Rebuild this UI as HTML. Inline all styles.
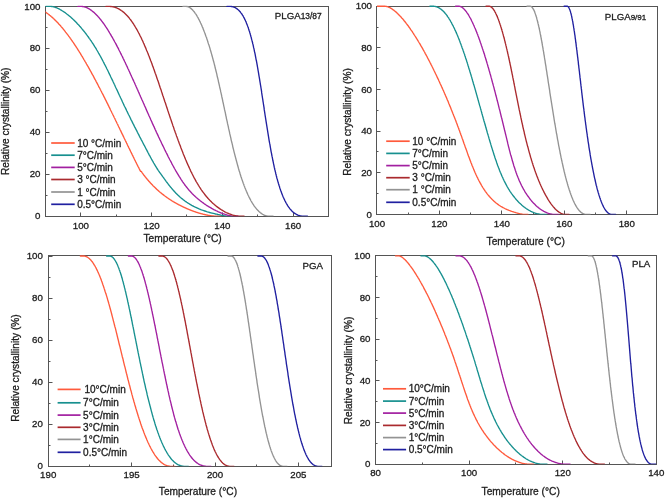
<!DOCTYPE html>
<html><head><meta charset="utf-8"><style>
html,body{margin:0;padding:0;background:#fff;}
svg{display:block;font-family:"Liberation Sans", sans-serif;will-change:transform;}
text{fill:#1c1c1c;stroke:#1c1c1c;stroke-width:0.3px;}
</style></head><body>
<svg width="666" height="500" viewBox="0 0 666 500">
<rect width="666" height="500" fill="#fff"/>
<rect x="45.50" y="6.50" width="283.00" height="210.00" fill="none" stroke="#555555" stroke-width="1.0"/>
<line x1="45.50" y1="216.50" x2="49.50" y2="216.50" stroke="#555555" stroke-width="1"/>
<line x1="45.50" y1="195.50" x2="47.50" y2="195.50" stroke="#555555" stroke-width="1"/>
<line x1="45.50" y1="174.50" x2="49.50" y2="174.50" stroke="#555555" stroke-width="1"/>
<line x1="45.50" y1="153.50" x2="47.50" y2="153.50" stroke="#555555" stroke-width="1"/>
<line x1="45.50" y1="132.50" x2="49.50" y2="132.50" stroke="#555555" stroke-width="1"/>
<line x1="45.50" y1="111.50" x2="47.50" y2="111.50" stroke="#555555" stroke-width="1"/>
<line x1="45.50" y1="90.50" x2="49.50" y2="90.50" stroke="#555555" stroke-width="1"/>
<line x1="45.50" y1="69.50" x2="47.50" y2="69.50" stroke="#555555" stroke-width="1"/>
<line x1="45.50" y1="48.50" x2="49.50" y2="48.50" stroke="#555555" stroke-width="1"/>
<line x1="45.50" y1="27.50" x2="47.50" y2="27.50" stroke="#555555" stroke-width="1"/>
<line x1="45.50" y1="6.50" x2="49.50" y2="6.50" stroke="#555555" stroke-width="1"/>
<line x1="80.50" y1="216.50" x2="80.50" y2="212.50" stroke="#555555" stroke-width="1"/>
<line x1="116.50" y1="216.50" x2="116.50" y2="214.50" stroke="#555555" stroke-width="1"/>
<line x1="151.50" y1="216.50" x2="151.50" y2="212.50" stroke="#555555" stroke-width="1"/>
<line x1="186.50" y1="216.50" x2="186.50" y2="214.50" stroke="#555555" stroke-width="1"/>
<line x1="222.50" y1="216.50" x2="222.50" y2="212.50" stroke="#555555" stroke-width="1"/>
<line x1="257.50" y1="216.50" x2="257.50" y2="214.50" stroke="#555555" stroke-width="1"/>
<line x1="293.50" y1="216.50" x2="293.50" y2="212.50" stroke="#555555" stroke-width="1"/>
<clipPath id="c1"><rect x="45.50" y="5.20" width="283.00" height="211.00"/></clipPath>
<g clip-path="url(#c1)" fill="none" stroke-width="1.35" stroke-linejoin="round" stroke-linecap="round">
<path d="M44.8,11.7 45.2,11.9 45.5,12.2 45.9,12.4 46.3,12.7 46.6,12.9 47.0,13.2 47.4,13.5 47.8,13.8 48.1,14.0 48.5,14.3 48.9,14.6 49.3,14.9 49.6,15.2 50.0,15.5 50.4,15.8 50.8,16.1 51.1,16.5 51.5,16.8 51.9,17.1 52.3,17.4 52.7,17.8 53.0,18.1 53.4,18.5 53.8,18.8 54.2,19.2 54.5,19.6 54.9,19.9 55.3,20.3 55.7,20.7 56.1,21.1 56.4,21.4 56.8,21.8 57.2,22.2 57.6,22.6 58.0,23.0 58.4,23.4 58.7,23.9 59.1,24.3 59.5,24.7 59.9,25.1 60.3,25.6 60.7,26.0 61.0,26.4 61.4,26.9 61.8,27.3 62.2,27.8 62.6,28.2 63.0,28.7 63.3,29.2 63.7,29.6 64.1,30.1 64.5,30.6 64.9,31.1 65.3,31.6 65.6,32.1 66.0,32.6 66.4,33.1 66.8,33.6 67.2,34.1 67.6,34.6 68.0,35.1 68.4,35.6 68.7,36.1 69.1,36.7 69.5,37.2 69.9,37.7 70.3,38.3 70.7,38.8 71.1,39.4 71.4,39.9 71.8,40.5 72.2,41.0 72.6,41.6 73.0,42.2 73.4,42.7 73.8,43.3 74.2,43.9 74.5,44.5 74.9,45.0 75.3,45.6 75.7,46.2 76.1,46.8 76.5,47.4 76.9,48.0 77.3,48.6 77.6,49.2 78.0,49.8 78.4,50.4 78.8,51.0 79.2,51.7 79.6,52.3 80.0,52.9 80.4,53.5 80.7,54.2 81.1,54.8 81.5,55.4 81.9,56.1 82.3,56.7 82.7,57.4 83.1,58.0 83.4,58.7 83.8,59.3 84.2,60.0 84.6,60.6 85.0,61.3 85.4,62.0 85.8,62.6 86.2,63.3 86.5,64.0 86.9,64.6 87.3,65.3 87.7,66.0 88.1,66.7 88.5,67.4 88.9,68.1 89.2,68.7 89.6,69.4 90.0,70.1 90.4,70.8 90.8,71.5 91.2,72.2 91.5,72.9 91.9,73.6 92.3,74.3 92.7,75.0 93.1,75.7 93.5,76.4 93.9,77.2 94.2,77.9 94.6,78.6 95.0,79.3 95.4,80.0 95.8,80.7 96.1,81.5 96.5,82.2 96.9,82.9 97.3,83.6 97.7,84.4 98.1,85.1 98.4,85.8 98.8,86.6 99.2,87.3 99.6,88.0 100.0,88.8 100.3,89.5 100.7,90.2 101.1,91.0 101.5,91.7 101.8,92.5 102.2,93.2 102.6,93.9 103.0,94.7 103.4,95.4 103.7,96.2 104.1,96.9 104.5,97.7 104.9,98.4 105.2,99.2 105.6,99.9 106.0,100.7 106.4,101.4 106.7,102.2 107.1,102.9 107.5,103.7 107.9,104.4 108.2,105.2 108.6,105.9 109.0,106.7 109.3,107.4 109.7,108.2 110.1,108.9 110.4,109.7 110.8,110.5 111.2,111.2 111.6,112.0 111.9,112.7 112.3,113.5 112.7,114.2 113.0,115.0 113.4,115.7 113.8,116.5 114.1,117.2 114.5,118.0 114.9,118.7 115.2,119.5 115.6,120.2 115.9,121.0 116.3,121.7 116.7,122.5 117.0,123.2 117.4,124.0 117.8,124.7 118.1,125.5 118.5,126.2 118.8,127.0 119.2,127.7 119.6,128.5 119.9,129.2 120.3,130.0 120.6,130.7 121.0,131.4 121.3,132.2 121.7,132.9 122.0,133.7 122.4,134.4 122.8,135.1 123.1,135.9 123.5,136.6 123.8,137.3 124.2,138.1 124.5,138.8 124.9,139.5 125.2,140.2 125.6,141.0 125.9,141.7 126.3,142.4 126.6,143.1 127.0,143.8 127.3,144.6 127.6,145.3 128.0,146.0 128.3,146.7 128.7,147.4 129.0,148.1 129.4,148.8 129.7,149.5 130.0,150.2 130.4,150.9 130.7,151.6 131.1,152.3 131.4,153.0 131.7,153.7 132.1,154.4 132.4,155.1 132.7,155.7 133.1,156.4 133.4,157.1 133.8,157.8 134.1,158.5 134.4,159.1 134.7,159.8 135.1,160.5 135.4,161.1 135.7,161.8 136.1,162.5 136.4,163.1 136.7,163.8 137.0,164.4 137.4,165.1 137.7,165.7 138.0,166.4 138.3,167.0 138.7,167.6 139.0,168.3 139.3,168.9 139.6,169.5 139.9,170.2 140.3,170.8 140.6,171.4L141.3,171.4 141.5,171.7 141.7,172.0 141.9,172.4 142.1,172.7 142.4,173.0 142.6,173.3 142.8,173.6 143.0,173.9 143.3,174.2 143.5,174.5 143.7,174.9 144.0,175.2 144.2,175.5 144.4,175.8 144.7,176.1 144.9,176.4 145.1,176.7 145.4,177.0 145.6,177.3 145.9,177.6 146.1,177.9 146.4,178.2 146.6,178.5 146.8,178.8 147.1,179.1 147.3,179.4 147.6,179.7 147.8,180.0 148.1,180.3 148.3,180.6 148.6,180.9 148.8,181.2 149.1,181.4 149.4,181.7 149.6,182.0 149.9,182.3 150.1,182.6 150.4,182.9 150.6,183.2 150.9,183.4 151.2,183.7 151.4,184.0 151.7,184.3 152.0,184.6 152.2,184.8 152.5,185.1 152.8,185.4 153.0,185.7 153.3,186.0 153.6,186.2 153.9,186.5 154.1,186.8 154.4,187.0 154.7,187.3 155.0,187.6 155.2,187.8 155.5,188.1 155.8,188.4 156.1,188.6 156.4,188.9 156.7,189.2 156.9,189.4 157.2,189.7 157.5,189.9 157.8,190.2 158.1,190.4 158.4,190.7 158.7,191.0 158.9,191.2 159.2,191.5 159.5,191.7 159.8,192.0 160.1,192.2 160.4,192.5 160.7,192.7 161.0,192.9 161.3,193.2 161.6,193.4 161.9,193.7 162.2,193.9 162.5,194.2 162.8,194.4 163.1,194.6 163.4,194.9 163.7,195.1 164.0,195.3 164.3,195.6 164.6,195.8 164.9,196.0 165.3,196.3 165.6,196.5 165.9,196.7 166.2,196.9 166.5,197.2 166.8,197.4 167.1,197.6 167.4,197.8 167.8,198.0 168.1,198.3 168.4,198.5 168.7,198.7 169.0,198.9 169.3,199.1 169.7,199.3 170.0,199.5 170.3,199.8 170.6,200.0 171.0,200.2 171.3,200.4 171.6,200.6 171.9,200.8 172.3,201.0 172.6,201.2 172.9,201.4 173.2,201.6 173.6,201.8 173.9,202.0 174.2,202.2 174.6,202.4 174.9,202.6 175.2,202.8 175.5,202.9 175.9,203.1 176.2,203.3 176.5,203.5 176.9,203.7 177.2,203.9 177.5,204.1 177.9,204.2 178.2,204.4 178.5,204.6 178.9,204.8 179.2,204.9 179.6,205.1 179.9,205.3 180.2,205.5 180.6,205.6 180.9,205.8 181.2,206.0 181.6,206.1 181.9,206.3 182.2,206.5 182.6,206.6 182.9,206.8 183.2,207.0 183.6,207.1 183.9,207.3 184.3,207.4 184.6,207.6 184.9,207.7 185.3,207.9 185.6,208.0 185.9,208.2 186.3,208.3 186.6,208.5 186.9,208.6 187.3,208.8 187.6,208.9 188.0,209.1 188.3,209.2 188.6,209.3 189.0,209.5 189.3,209.6 189.6,209.8 190.0,209.9 190.3,210.0 190.6,210.2 191.0,210.3 191.3,210.4 191.6,210.5 191.9,210.7 192.3,210.8 192.6,210.9 192.9,211.0 193.3,211.1 193.6,211.3 193.9,211.4 194.2,211.5 194.6,211.6 194.9,211.7 195.2,211.8 195.5,212.0 195.9,212.1 196.2,212.2 196.5,212.3 196.8,212.4 197.2,212.5 197.5,212.6 197.8,212.7 198.1,212.8 198.4,212.9 198.8,213.0 199.1,213.1 199.4,213.2 199.7,213.3 200.0,213.3 200.3,213.4 200.6,213.5 200.9,213.6 201.3,213.7 201.6,213.8 201.9,213.9 202.2,213.9 202.5,214.0 202.8,214.1 203.1,214.2 203.4,214.3 203.7,214.3 204.0,214.4 204.3,214.5 204.6,214.5 204.9,214.6 205.2,214.7 205.5,214.7 205.8,214.8 206.0,214.9 206.3,214.9 206.6,215.0 206.9,215.0 207.2,215.1 207.5,215.2 207.8,215.2 208.0,215.3 208.3,215.3 208.6,215.4 208.9,215.4 209.2,215.5 209.4,215.5 209.7,215.6 210.0,215.6 210.2,215.6 210.5,215.7 210.8,215.7 211.0,215.7 211.3,215.8 211.6,215.8 211.8,215.9 212.1,215.9 212.3,215.9 212.6,215.9 212.8,216.0 213.1,216.0 213.3,216.0 213.6,216.0 213.8,216.1 214.1,216.1 214.3,216.1 214.6,216.1 214.8,216.1 215.0,216.1 215.3,216.2 215.5,216.2 215.7,216.2 216.0,216.2 216.2,216.2 216.4,216.2 216.6,216.2 216.8,216.2 217.1,216.2 221.1,216.2" stroke="#FF5A3C"/>
<path d="M45.5,6.4 50.4,6.4 50.8,6.4 51.2,6.4 51.6,6.5 52.0,6.5 52.5,6.6 52.9,6.7 53.4,6.8 53.9,6.9 54.3,7.0 54.8,7.2 55.3,7.3 55.8,7.5 56.3,7.7 56.8,7.9 57.3,8.1 57.9,8.4 58.4,8.6 59.0,8.9 59.5,9.2 60.1,9.5 60.6,9.8 61.2,10.1 61.8,10.5 62.3,10.8 62.9,11.2 63.5,11.6 64.1,12.0 64.7,12.4 65.3,12.8 65.9,13.3 66.5,13.7 67.1,14.2 67.8,14.7 68.4,15.2 69.0,15.7 69.6,16.2 70.3,16.8 70.9,17.3 71.6,17.9 72.2,18.5 72.8,19.1 73.5,19.7 74.1,20.3 74.8,21.0 75.4,21.6 76.1,22.3 76.8,23.0 77.4,23.7 78.1,24.4 78.7,25.1 79.4,25.8 80.0,26.6 80.7,27.3 81.4,28.1 82.0,28.9 82.7,29.7 83.3,30.5 84.0,31.3 84.7,32.1 85.3,33.0 86.0,33.8 86.6,34.7 87.3,35.6 87.9,36.5 88.6,37.3 89.2,38.3 89.9,39.2 90.5,40.1 91.2,41.0 91.8,42.0 92.4,43.0 93.1,43.9 93.7,44.9 94.3,45.9 94.9,46.9 95.6,47.9 96.2,48.9 96.8,50.0 97.4,51.0 98.0,52.0 98.6,53.1 99.2,54.1 99.8,55.2 100.4,56.3 101.0,57.4 101.6,58.5 102.2,59.6 102.8,60.7 103.3,61.8 103.9,62.9 104.5,64.1 105.1,65.2 105.7,66.4 106.3,67.5 106.8,68.7 107.4,69.8 108.0,71.0 108.6,72.2 109.1,73.4 109.7,74.6 110.3,75.8 110.8,77.0 111.4,78.2 112.0,79.4 112.6,80.6 113.1,81.8 113.7,83.0 114.3,84.3 114.9,85.5 115.4,86.7 116.0,88.0 116.6,89.2 117.2,90.4 117.8,91.7 118.3,92.9 118.9,94.2 119.5,95.5 120.1,96.7 120.7,98.0 121.3,99.2 121.9,100.5 122.4,101.8 123.0,103.0 123.6,104.3 124.2,105.6 124.8,106.8 125.5,108.1 126.1,109.4 126.7,110.7 127.3,111.9 127.9,113.2 128.5,114.5 129.2,115.8 129.8,117.0 130.4,118.3 131.0,119.6 131.7,120.8 132.3,122.1 132.9,123.4 133.6,124.6 134.2,125.9 134.8,127.1 135.5,128.4 136.1,129.7 136.8,130.9 137.4,132.2 138.0,133.4 138.7,134.6 139.3,135.9 139.9,137.1 140.6,138.3 141.2,139.6 141.9,140.8 142.5,142.0 143.1,143.2 143.7,144.4 144.4,145.6 145.0,146.8 145.6,148.0 146.2,149.2 146.9,150.4 147.5,151.6 148.1,152.8 148.7,153.9 149.3,155.1 150.0,156.2 150.6,157.4 151.2,158.5 151.8,159.7 152.5,160.8 153.1,161.9 153.7,163.0 154.4,164.1 155.0,165.2 155.7,166.3 156.4,167.4 157.0,168.5 157.7,169.5 158.4,170.6 159.1,171.6 159.8,172.6 160.6,173.7 161.3,174.7 162.0,175.7 162.7,176.7 163.5,177.7 164.2,178.7 164.9,179.6 165.6,180.6 166.3,181.6 167.0,182.5 167.7,183.4 168.4,184.3 169.1,185.3 169.8,186.1 170.5,187.0 171.3,187.9 172.0,188.8 172.7,189.6 173.5,190.5 174.2,191.3 174.9,192.1 175.7,192.9 176.5,193.7 177.3,194.5 178.1,195.3 178.9,196.0 179.7,196.8 180.5,197.5 181.4,198.2 182.3,198.9 183.1,199.6 184.0,200.3 184.9,201.0 185.8,201.6 186.8,202.3 187.7,202.9 188.7,203.5 189.7,204.1 190.6,204.7 191.7,205.3 192.7,205.8 193.7,206.4 194.7,206.9 195.8,207.4 196.9,207.9 198.0,208.4 199.1,208.9 200.2,209.3 201.4,209.8 202.5,210.2 203.7,210.6 204.9,211.0 206.1,211.4 207.3,211.8 208.5,212.1 209.7,212.5 210.9,212.8 212.1,213.1 213.3,213.4 214.5,213.7 215.6,214.0 216.8,214.2 217.8,214.5 218.9,214.7 219.9,214.9 220.8,215.1 221.7,215.3 222.5,215.4 223.2,215.6 223.9,215.7 224.5,215.8 225.0,215.9 225.4,216.0 225.7,216.1 226.0,216.1 226.1,216.2 226.1,216.2 226.1,216.2 230.1,216.2" stroke="#17908F"/>
<path d="M77.9,6.4 80.9,6.4 81.3,6.4 81.8,6.4 82.2,6.5 82.7,6.5 83.1,6.6 83.6,6.7 84.0,6.8 84.5,6.9 85.0,7.0 85.4,7.2 85.9,7.3 86.3,7.5 86.8,7.7 87.3,7.9 87.7,8.1 88.2,8.4 88.7,8.6 89.1,8.9 89.6,9.2 90.1,9.5 90.6,9.8 91.0,10.1 91.5,10.5 92.0,10.8 92.4,11.2 92.9,11.6 93.4,12.0 93.9,12.4 94.4,12.8 94.8,13.3 95.3,13.7 95.8,14.2 96.3,14.7 96.8,15.2 97.3,15.7 97.7,16.2 98.2,16.8 98.7,17.3 99.2,17.9 99.7,18.5 100.2,19.1 100.7,19.7 101.2,20.3 101.7,21.0 102.2,21.6 102.7,22.3 103.2,23.0 103.7,23.7 104.2,24.4 104.7,25.1 105.2,25.8 105.7,26.6 106.2,27.3 106.7,28.1 107.2,28.9 107.7,29.7 108.2,30.5 108.7,31.3 109.2,32.1 109.7,33.0 110.2,33.8 110.7,34.7 111.2,35.6 111.7,36.5 112.3,37.3 112.8,38.3 113.3,39.2 113.8,40.1 114.3,41.0 114.8,42.0 115.4,43.0 115.9,43.9 116.4,44.9 116.9,45.9 117.4,46.9 118.0,47.9 118.5,48.9 119.0,50.0 119.5,51.0 120.1,52.0 120.6,53.1 121.1,54.1 121.6,55.2 122.2,56.3 122.7,57.4 123.2,58.5 123.8,59.6 124.3,60.7 124.8,61.8 125.4,62.9 125.9,64.1 126.4,65.2 127.0,66.4 127.5,67.5 128.0,68.7 128.6,69.8 129.1,71.0 129.7,72.2 130.2,73.4 130.7,74.6 131.3,75.8 131.8,77.0 132.4,78.2 132.9,79.4 133.5,80.6 134.0,81.8 134.6,83.0 135.1,84.3 135.7,85.5 136.2,86.7 136.8,88.0 137.3,89.2 137.9,90.4 138.4,91.7 139.0,92.9 139.5,94.2 140.1,95.5 140.6,96.7 141.2,98.0 141.7,99.2 142.3,100.5 142.9,101.8 143.4,103.0 144.0,104.3 144.5,105.6 145.1,106.8 145.7,108.1 146.2,109.4 146.8,110.7 147.3,111.9 147.9,113.2 148.5,114.5 149.0,115.8 149.6,117.0 150.2,118.3 150.7,119.6 151.3,120.8 151.9,122.1 152.4,123.4 153.0,124.6 153.6,125.9 154.2,127.1 154.7,128.4 155.3,129.7 155.9,130.9 156.4,132.2 157.0,133.4 157.6,134.6 158.2,135.9 158.7,137.1 159.3,138.3 159.9,139.6 160.5,140.8 161.1,142.0 161.6,143.2 162.2,144.4 162.8,145.6 163.4,146.8 164.0,148.0 164.5,149.2 165.1,150.4 165.7,151.6 166.3,152.8 166.9,153.9 167.5,155.1 168.0,156.2 168.6,157.4 169.2,158.5 169.8,159.7 170.4,160.8 171.0,161.9 171.6,163.0 172.1,164.1 172.7,165.2 173.3,166.3 173.9,167.4 174.5,168.5 175.1,169.5 175.7,170.6 176.3,171.6 176.9,172.6 177.5,173.7 178.1,174.7 178.7,175.7 179.3,176.7 180.0,177.7 180.6,178.7 181.2,179.6 181.9,180.6 182.5,181.6 183.1,182.5 183.8,183.4 184.5,184.3 185.1,185.3 185.8,186.1 186.5,187.0 187.2,187.9 187.9,188.8 188.6,189.6 189.3,190.5 190.1,191.3 190.8,192.1 191.6,192.9 192.3,193.7 193.1,194.5 193.9,195.3 194.7,196.0 195.5,196.8 196.3,197.5 197.2,198.2 198.0,198.9 198.8,199.6 199.7,200.3 200.5,201.0 201.4,201.6 202.2,202.3 203.1,202.9 203.9,203.5 204.8,204.1 205.7,204.7 206.5,205.3 207.4,205.8 208.3,206.4 209.1,206.9 210.0,207.4 210.9,207.9 211.7,208.4 212.6,208.9 213.4,209.3 214.3,209.8 215.1,210.2 215.9,210.6 216.8,211.0 217.6,211.4 218.4,211.8 219.2,212.1 220.0,212.5 220.8,212.8 221.6,213.1 222.4,213.4 223.1,213.7 223.9,214.0 224.6,214.2 225.3,214.5 226.0,214.7 226.7,214.9 227.4,215.1 228.0,215.3 228.7,215.4 229.3,215.6 229.9,215.7 230.5,215.8 231.1,215.9 231.6,216.0 232.2,216.1 232.7,216.1 233.2,216.2 233.6,216.2 234.1,216.2 238.1,216.2" stroke="#A21FA0"/>
<path d="M105.9,6.4 108.9,6.4 109.5,6.4 110.0,6.4 110.6,6.5 111.2,6.5 111.7,6.6 112.3,6.7 112.8,6.8 113.4,6.9 113.9,7.0 114.4,7.2 115.0,7.3 115.5,7.5 116.1,7.7 116.6,7.9 117.1,8.1 117.6,8.4 118.2,8.6 118.7,8.9 119.2,9.2 119.7,9.5 120.2,9.8 120.7,10.1 121.2,10.5 121.8,10.8 122.3,11.2 122.8,11.6 123.3,12.0 123.8,12.4 124.3,12.8 124.7,13.3 125.2,13.7 125.7,14.2 126.2,14.7 126.7,15.2 127.2,15.7 127.7,16.2 128.1,16.8 128.6,17.3 129.1,17.9 129.6,18.5 130.0,19.1 130.5,19.7 131.0,20.3 131.4,21.0 131.9,21.6 132.4,22.3 132.8,23.0 133.3,23.7 133.8,24.4 134.2,25.1 134.7,25.8 135.1,26.6 135.6,27.3 136.0,28.1 136.5,28.9 136.9,29.7 137.4,30.5 137.8,31.3 138.3,32.1 138.7,33.0 139.2,33.8 139.6,34.7 140.0,35.6 140.5,36.5 140.9,37.3 141.4,38.3 141.8,39.2 142.2,40.1 142.7,41.0 143.1,42.0 143.5,43.0 144.0,43.9 144.4,44.9 144.8,45.9 145.2,46.9 145.7,47.9 146.1,48.9 146.5,50.0 146.9,51.0 147.4,52.0 147.8,53.1 148.2,54.1 148.6,55.2 149.1,56.3 149.5,57.4 149.9,58.5 150.3,59.6 150.7,60.7 151.2,61.8 151.6,62.9 152.0,64.1 152.4,65.2 152.8,66.4 153.3,67.5 153.7,68.7 154.1,69.8 154.5,71.0 154.9,72.2 155.3,73.4 155.8,74.6 156.2,75.8 156.6,77.0 157.0,78.2 157.4,79.4 157.8,80.6 158.3,81.8 158.7,83.0 159.1,84.3 159.5,85.5 159.9,86.7 160.3,88.0 160.8,89.2 161.2,90.4 161.6,91.7 162.0,92.9 162.4,94.2 162.8,95.5 163.3,96.7 163.7,98.0 164.1,99.2 164.5,100.5 164.9,101.8 165.4,103.0 165.8,104.3 166.2,105.6 166.6,106.8 167.0,108.1 167.5,109.4 167.9,110.7 168.3,111.9 168.7,113.2 169.2,114.5 169.6,115.8 170.0,117.0 170.4,118.3 170.9,119.6 171.3,120.8 171.7,122.1 172.2,123.4 172.6,124.6 173.0,125.9 173.5,127.1 173.9,128.4 174.3,129.7 174.8,130.9 175.2,132.2 175.7,133.4 176.1,134.6 176.5,135.9 177.0,137.1 177.4,138.3 177.9,139.6 178.3,140.8 178.8,142.0 179.2,143.2 179.7,144.4 180.1,145.6 180.6,146.8 181.0,148.0 181.5,149.2 182.0,150.4 182.4,151.6 182.9,152.8 183.3,153.9 183.8,155.1 184.3,156.2 184.7,157.4 185.2,158.5 185.7,159.7 186.2,160.8 186.6,161.9 187.1,163.0 187.6,164.1 188.1,165.2 188.6,166.3 189.1,167.4 189.6,168.5 190.1,169.5 190.5,170.6 191.0,171.6 191.6,172.6 192.1,173.7 192.6,174.7 193.1,175.7 193.6,176.7 194.1,177.7 194.6,178.7 195.2,179.6 195.7,180.6 196.2,181.6 196.8,182.5 197.3,183.4 197.9,184.3 198.4,185.3 199.0,186.1 199.5,187.0 200.1,187.9 200.7,188.8 201.2,189.6 201.8,190.5 202.4,191.3 203.0,192.1 203.6,192.9 204.2,193.7 204.8,194.5 205.4,195.3 206.0,196.0 206.6,196.8 207.3,197.5 207.9,198.2 208.5,198.9 209.2,199.6 209.8,200.3 210.5,201.0 211.1,201.6 211.8,202.3 212.5,202.9 213.1,203.5 213.8,204.1 214.5,204.7 215.2,205.3 215.8,205.8 216.5,206.4 217.2,206.9 217.9,207.4 218.6,207.9 219.3,208.4 220.0,208.9 220.7,209.3 221.4,209.8 222.1,210.2 222.8,210.6 223.5,211.0 224.1,211.4 224.8,211.8 225.5,212.1 226.2,212.5 226.9,212.8 227.6,213.1 228.3,213.4 228.9,213.7 229.6,214.0 230.3,214.2 230.9,214.5 231.6,214.7 232.2,214.9 232.9,215.1 233.5,215.3 234.2,215.4 234.8,215.6 235.4,215.7 236.0,215.8 236.6,215.9 237.2,216.0 237.8,216.1 238.4,216.1 239.0,216.2 239.6,216.2 240.1,216.2 244.1,216.2" stroke="#AA2A2E"/>
<path d="M183.0,6.4 186.0,6.4 186.3,6.4 186.6,6.4 186.9,6.5 187.2,6.5 187.5,6.6 187.8,6.7 188.1,6.8 188.4,6.9 188.7,7.0 189.0,7.2 189.3,7.3 189.6,7.5 189.9,7.7 190.2,7.9 190.5,8.1 190.8,8.4 191.1,8.6 191.4,8.9 191.8,9.2 192.1,9.5 192.4,9.8 192.7,10.1 193.0,10.5 193.3,10.8 193.6,11.2 193.9,11.6 194.3,12.0 194.6,12.4 194.9,12.8 195.2,13.3 195.5,13.7 195.9,14.2 196.2,14.7 196.5,15.2 196.8,15.7 197.1,16.2 197.4,16.8 197.8,17.3 198.1,17.9 198.4,18.5 198.7,19.1 199.0,19.7 199.4,20.3 199.7,21.0 200.0,21.6 200.3,22.3 200.6,23.0 201.0,23.7 201.3,24.4 201.6,25.1 201.9,25.8 202.2,26.6 202.6,27.3 202.9,28.1 203.2,28.9 203.5,29.7 203.8,30.5 204.1,31.3 204.5,32.1 204.8,33.0 205.1,33.8 205.4,34.7 205.7,35.6 206.0,36.5 206.4,37.3 206.7,38.3 207.0,39.2 207.3,40.1 207.6,41.0 207.9,42.0 208.2,43.0 208.5,43.9 208.9,44.9 209.2,45.9 209.5,46.9 209.8,47.9 210.1,48.9 210.4,50.0 210.7,51.0 211.0,52.0 211.3,53.1 211.6,54.1 211.9,55.2 212.2,56.3 212.5,57.4 212.8,58.5 213.1,59.6 213.4,60.7 213.7,61.8 214.0,62.9 214.3,64.1 214.6,65.2 214.9,66.4 215.1,67.5 215.4,68.7 215.7,69.8 216.0,71.0 216.3,72.2 216.6,73.4 216.9,74.6 217.1,75.8 217.4,77.0 217.7,78.2 218.0,79.4 218.3,80.6 218.5,81.8 218.8,83.0 219.1,84.3 219.4,85.5 219.6,86.7 219.9,88.0 220.2,89.2 220.5,90.4 220.7,91.7 221.0,92.9 221.3,94.2 221.6,95.5 221.8,96.7 222.1,98.0 222.4,99.2 222.6,100.5 222.9,101.8 223.2,103.0 223.5,104.3 223.7,105.6 224.0,106.8 224.3,108.1 224.5,109.4 224.8,110.7 225.1,111.9 225.4,113.2 225.6,114.5 225.9,115.8 226.2,117.0 226.4,118.3 226.7,119.6 227.0,120.8 227.3,122.1 227.5,123.4 227.8,124.6 228.1,125.9 228.4,127.1 228.6,128.4 228.9,129.7 229.2,130.9 229.5,132.2 229.7,133.4 230.0,134.6 230.3,135.9 230.6,137.1 230.9,138.3 231.1,139.6 231.4,140.8 231.7,142.0 232.0,143.2 232.3,144.4 232.6,145.6 232.8,146.8 233.1,148.0 233.4,149.2 233.7,150.4 234.0,151.6 234.3,152.8 234.6,153.9 234.9,155.1 235.2,156.2 235.5,157.4 235.8,158.5 236.1,159.7 236.4,160.8 236.7,161.9 237.0,163.0 237.3,164.1 237.6,165.2 237.9,166.3 238.2,167.4 238.5,168.5 238.8,169.5 239.1,170.6 239.4,171.6 239.8,172.6 240.1,173.7 240.4,174.7 240.7,175.7 241.0,176.7 241.4,177.7 241.7,178.7 242.0,179.6 242.3,180.6 242.7,181.6 243.0,182.5 243.3,183.4 243.7,184.3 244.0,185.3 244.3,186.1 244.7,187.0 245.0,187.9 245.4,188.8 245.7,189.6 246.1,190.5 246.4,191.3 246.8,192.1 247.1,192.9 247.5,193.7 247.8,194.5 248.2,195.3 248.6,196.0 248.9,196.8 249.3,197.5 249.6,198.2 250.0,198.9 250.4,199.6 250.7,200.3 251.1,201.0 251.5,201.6 251.9,202.3 252.2,202.9 252.6,203.5 253.0,204.1 253.4,204.7 253.8,205.3 254.1,205.8 254.5,206.4 254.9,206.9 255.3,207.4 255.7,207.9 256.1,208.4 256.5,208.9 256.9,209.3 257.3,209.8 257.7,210.2 258.1,210.6 258.5,211.0 258.9,211.4 259.3,211.8 259.7,212.1 260.1,212.5 260.5,212.8 260.9,213.1 261.3,213.4 261.7,213.7 262.1,214.0 262.5,214.2 262.9,214.5 263.3,214.7 263.7,214.9 264.1,215.1 264.5,215.3 264.9,215.4 265.4,215.6 265.8,215.7 266.2,215.8 266.6,215.9 267.0,216.0 267.4,216.1 267.8,216.1 268.3,216.2 268.7,216.2 269.1,216.2 273.1,216.2" stroke="#939393"/>
<path d="M226.9,6.4 229.9,6.4 230.3,6.4 230.8,6.4 231.2,6.5 231.6,6.5 232.0,6.6 232.4,6.7 232.8,6.8 233.2,6.9 233.6,7.0 234.0,7.2 234.4,7.3 234.8,7.5 235.2,7.7 235.6,7.9 236.0,8.1 236.3,8.4 236.7,8.6 237.1,8.9 237.5,9.2 237.8,9.5 238.2,9.8 238.5,10.1 238.9,10.5 239.2,10.8 239.6,11.2 239.9,11.6 240.3,12.0 240.6,12.4 240.9,12.8 241.3,13.3 241.6,13.7 241.9,14.2 242.2,14.7 242.5,15.2 242.9,15.7 243.2,16.2 243.5,16.8 243.8,17.3 244.1,17.9 244.4,18.5 244.7,19.1 245.0,19.7 245.3,20.3 245.6,21.0 245.9,21.6 246.2,22.3 246.4,23.0 246.7,23.7 247.0,24.4 247.3,25.1 247.5,25.8 247.8,26.6 248.1,27.3 248.4,28.1 248.6,28.9 248.9,29.7 249.1,30.5 249.4,31.3 249.7,32.1 249.9,33.0 250.2,33.8 250.4,34.7 250.7,35.6 250.9,36.5 251.2,37.3 251.4,38.3 251.6,39.2 251.9,40.1 252.1,41.0 252.4,42.0 252.6,43.0 252.8,43.9 253.1,44.9 253.3,45.9 253.5,46.9 253.7,47.9 254.0,48.9 254.2,50.0 254.4,51.0 254.6,52.0 254.9,53.1 255.1,54.1 255.3,55.2 255.5,56.3 255.7,57.4 255.9,58.5 256.1,59.6 256.4,60.7 256.6,61.8 256.8,62.9 257.0,64.1 257.2,65.2 257.4,66.4 257.6,67.5 257.8,68.7 258.0,69.8 258.2,71.0 258.4,72.2 258.6,73.4 258.8,74.6 259.0,75.8 259.2,77.0 259.4,78.2 259.6,79.4 259.8,80.6 260.0,81.8 260.2,83.0 260.4,84.3 260.6,85.5 260.8,86.7 261.0,88.0 261.2,89.2 261.4,90.4 261.6,91.7 261.7,92.9 261.9,94.2 262.1,95.5 262.3,96.7 262.5,98.0 262.7,99.2 262.9,100.5 263.1,101.8 263.3,103.0 263.5,104.3 263.7,105.6 263.9,106.8 264.1,108.1 264.2,109.4 264.4,110.7 264.6,111.9 264.8,113.2 265.0,114.5 265.2,115.8 265.4,117.0 265.6,118.3 265.8,119.6 266.0,120.8 266.2,122.1 266.4,123.4 266.6,124.6 266.8,125.9 267.0,127.1 267.2,128.4 267.4,129.7 267.6,130.9 267.8,132.2 268.0,133.4 268.2,134.6 268.4,135.9 268.6,137.1 268.8,138.3 269.0,139.6 269.2,140.8 269.4,142.0 269.6,143.2 269.9,144.4 270.1,145.6 270.3,146.8 270.5,148.0 270.7,149.2 270.9,150.4 271.1,151.6 271.4,152.8 271.6,153.9 271.8,155.1 272.0,156.2 272.3,157.4 272.5,158.5 272.7,159.7 272.9,160.8 273.2,161.9 273.4,163.0 273.6,164.1 273.9,165.2 274.1,166.3 274.3,167.4 274.6,168.5 274.8,169.5 275.1,170.6 275.3,171.6 275.6,172.6 275.8,173.7 276.1,174.7 276.3,175.7 276.6,176.7 276.8,177.7 277.1,178.7 277.4,179.6 277.6,180.6 277.9,181.6 278.2,182.5 278.4,183.4 278.7,184.3 279.0,185.3 279.3,186.1 279.6,187.0 279.8,187.9 280.1,188.8 280.4,189.6 280.7,190.5 281.0,191.3 281.3,192.1 281.6,192.9 281.9,193.7 282.2,194.5 282.5,195.3 282.8,196.0 283.1,196.8 283.4,197.5 283.8,198.2 284.1,198.9 284.4,199.6 284.7,200.3 285.1,201.0 285.4,201.6 285.7,202.3 286.1,202.9 286.4,203.5 286.8,204.1 287.1,204.7 287.5,205.3 287.8,205.8 288.2,206.4 288.5,206.9 288.9,207.4 289.3,207.9 289.6,208.4 290.0,208.9 290.4,209.3 290.8,209.8 291.2,210.2 291.6,210.6 291.9,211.0 292.3,211.4 292.7,211.8 293.1,212.1 293.6,212.5 294.0,212.8 294.4,213.1 294.8,213.4 295.2,213.7 295.7,214.0 296.1,214.2 296.5,214.5 297.0,214.7 297.4,214.9 297.8,215.1 298.3,215.3 298.8,215.4 299.2,215.6 299.7,215.7 300.1,215.8 300.6,215.9 301.1,216.0 301.6,216.1 302.1,216.1 302.5,216.2 303.0,216.2 303.5,216.2 307.5,216.2" stroke="#2020A0"/>
</g>
<text x="40.50" y="219.30" font-size="9.7" text-anchor="end" >0</text>
<text x="40.50" y="177.34" font-size="9.7" text-anchor="end" >20</text>
<text x="40.50" y="135.38" font-size="9.7" text-anchor="end" >40</text>
<text x="40.50" y="93.42" font-size="9.7" text-anchor="end" >60</text>
<text x="40.50" y="51.46" font-size="9.7" text-anchor="end" >80</text>
<text x="40.50" y="9.50" font-size="9.7" text-anchor="end" >100</text>
<text x="80.88" y="229.00" font-size="9.7" text-anchor="middle" >100</text>
<text x="151.62" y="229.00" font-size="9.7" text-anchor="middle" >120</text>
<text x="222.38" y="229.00" font-size="9.7" text-anchor="middle" >140</text>
<text x="293.12" y="229.00" font-size="9.7" text-anchor="middle" >160</text>
<text x="143.50" y="242.20" font-size="10.2" text-anchor="start" >Temperature (°C)</text>
<text transform="translate(9.40,175.00) rotate(-90)" font-size="10.15">Relative crystallinity (%)</text>
<text x="274.80" y="18.60" font-size="9.7">PLGA<tspan font-size="8.4">13/87</tspan></text>
<line x1="51.20" y1="143.00" x2="74.70" y2="143.00" stroke="#FF5A3C" stroke-width="1.7" stroke-linecap="butt"/>
<text x="77.20" y="146.50" font-size="10" text-anchor="start" >10 °C/min</text>
<line x1="51.20" y1="155.20" x2="74.70" y2="155.20" stroke="#17908F" stroke-width="1.7" stroke-linecap="butt"/>
<text x="77.20" y="158.70" font-size="10" text-anchor="start" >7°C/min</text>
<line x1="51.20" y1="167.40" x2="74.70" y2="167.40" stroke="#A21FA0" stroke-width="1.7" stroke-linecap="butt"/>
<text x="77.20" y="170.90" font-size="10" text-anchor="start" >5°C/min</text>
<line x1="51.20" y1="179.50" x2="74.70" y2="179.50" stroke="#AA2A2E" stroke-width="1.7" stroke-linecap="butt"/>
<text x="77.20" y="183.00" font-size="10" text-anchor="start" >3 °C/min</text>
<line x1="51.20" y1="192.00" x2="74.70" y2="192.00" stroke="#939393" stroke-width="1.7" stroke-linecap="butt"/>
<text x="77.20" y="195.50" font-size="10" text-anchor="start" >1 °C/min</text>
<line x1="51.20" y1="204.30" x2="74.70" y2="204.30" stroke="#2020A0" stroke-width="1.7" stroke-linecap="butt"/>
<text x="77.20" y="207.80" font-size="10" text-anchor="start" >0.5°C/min</text>
<rect x="376.50" y="6.50" width="281.00" height="208.00" fill="none" stroke="#555555" stroke-width="1.0"/>
<line x1="376.50" y1="214.50" x2="380.50" y2="214.50" stroke="#555555" stroke-width="1"/>
<line x1="376.50" y1="193.50" x2="378.50" y2="193.50" stroke="#555555" stroke-width="1"/>
<line x1="376.50" y1="172.50" x2="380.50" y2="172.50" stroke="#555555" stroke-width="1"/>
<line x1="376.50" y1="151.50" x2="378.50" y2="151.50" stroke="#555555" stroke-width="1"/>
<line x1="376.50" y1="131.50" x2="380.50" y2="131.50" stroke="#555555" stroke-width="1"/>
<line x1="376.50" y1="110.50" x2="378.50" y2="110.50" stroke="#555555" stroke-width="1"/>
<line x1="376.50" y1="89.50" x2="380.50" y2="89.50" stroke="#555555" stroke-width="1"/>
<line x1="376.50" y1="68.50" x2="378.50" y2="68.50" stroke="#555555" stroke-width="1"/>
<line x1="376.50" y1="47.50" x2="380.50" y2="47.50" stroke="#555555" stroke-width="1"/>
<line x1="376.50" y1="27.50" x2="378.50" y2="27.50" stroke="#555555" stroke-width="1"/>
<line x1="376.50" y1="6.50" x2="380.50" y2="6.50" stroke="#555555" stroke-width="1"/>
<line x1="408.50" y1="214.50" x2="408.50" y2="212.50" stroke="#555555" stroke-width="1"/>
<line x1="439.50" y1="214.50" x2="439.50" y2="210.50" stroke="#555555" stroke-width="1"/>
<line x1="470.50" y1="214.50" x2="470.50" y2="212.50" stroke="#555555" stroke-width="1"/>
<line x1="501.50" y1="214.50" x2="501.50" y2="210.50" stroke="#555555" stroke-width="1"/>
<line x1="533.50" y1="214.50" x2="533.50" y2="212.50" stroke="#555555" stroke-width="1"/>
<line x1="564.50" y1="214.50" x2="564.50" y2="210.50" stroke="#555555" stroke-width="1"/>
<line x1="595.50" y1="214.50" x2="595.50" y2="212.50" stroke="#555555" stroke-width="1"/>
<line x1="626.50" y1="214.50" x2="626.50" y2="210.50" stroke="#555555" stroke-width="1"/>
<clipPath id="c2"><rect x="377.00" y="5.00" width="281.00" height="209.40"/></clipPath>
<g clip-path="url(#c2)" fill="none" stroke-width="1.35" stroke-linejoin="round" stroke-linecap="round">
<path d="M377.0,6.2 384.4,6.2 384.7,6.2 385.1,6.2 385.5,6.3 385.8,6.3 386.2,6.4 386.6,6.5 387.0,6.6 387.4,6.7 387.8,6.8 388.2,7.0 388.6,7.1 389.0,7.3 389.4,7.5 389.8,7.7 390.2,7.9 390.6,8.2 391.1,8.4 391.5,8.7 392.0,9.0 392.4,9.2 392.8,9.6 393.3,9.9 393.8,10.2 394.2,10.6 394.7,10.9 395.1,11.3 395.6,11.7 396.1,12.1 396.6,12.6 397.0,13.0 397.5,13.5 398.0,13.9 398.5,14.4 399.0,14.9 399.5,15.4 400.0,16.0 400.5,16.5 401.0,17.1 401.5,17.6 402.0,18.2 402.6,18.8 403.1,19.4 403.6,20.0 404.1,20.7 404.6,21.3 405.2,22.0 405.7,22.7 406.2,23.4 406.8,24.1 407.3,24.8 407.9,25.5 408.4,26.2 408.9,27.0 409.5,27.7 410.0,28.5 410.6,29.3 411.1,30.1 411.7,30.9 412.3,31.7 412.8,32.6 413.4,33.4 413.9,34.3 414.5,35.1 415.0,36.0 415.6,36.9 416.2,37.8 416.7,38.7 417.3,39.6 417.9,40.6 418.4,41.5 419.0,42.5 419.6,43.4 420.2,44.4 420.7,45.4 421.3,46.4 421.9,47.4 422.5,48.4 423.0,49.4 423.6,50.4 424.2,51.5 424.8,52.5 425.3,53.6 425.9,54.6 426.5,55.7 427.1,56.8 427.6,57.9 428.2,59.0 428.8,60.1 429.4,61.2 429.9,62.3 430.5,63.4 431.1,64.6 431.7,65.7 432.2,66.8 432.8,68.0 433.4,69.2 433.9,70.3 434.5,71.5 435.1,72.7 435.6,73.8 436.2,75.0 436.8,76.2 437.3,77.4 437.9,78.6 438.5,79.8 439.0,81.0 439.6,82.2 440.1,83.5 440.7,84.7 441.3,85.9 441.8,87.1 442.4,88.4 442.9,89.6 443.5,90.8 444.0,92.1 444.5,93.3 445.1,94.6 445.6,95.8 446.2,97.1 446.7,98.3 447.2,99.6 447.8,100.8 448.3,102.1 448.8,103.4 449.3,104.6 449.8,105.9 450.4,107.1 450.9,108.4 451.4,109.7 451.9,110.9 452.4,112.2 452.9,113.5 453.4,114.7 453.9,116.0 454.4,117.2 454.9,118.5 455.4,119.8 455.9,121.0 456.3,122.3 456.8,123.5 457.3,124.8 457.7,126.0 458.2,127.3 458.7,128.5 459.1,129.8 459.6,131.0 460.0,132.2 460.5,133.5 460.9,134.7 461.4,135.9 461.8,137.1 462.2,138.4 462.7,139.6 463.1,140.8 463.5,142.0 463.9,143.2 464.4,144.4 464.8,145.6 465.2,146.8 465.6,147.9 466.0,149.1 466.5,150.3 466.9,151.4 467.3,152.6 467.7,153.8 468.1,154.9 468.5,156.0 469.0,157.2 469.4,158.3 469.8,159.4 470.2,160.5 470.6,161.6 471.0,162.7 471.5,163.8 471.9,164.9 472.3,166.0 472.8,167.0 473.2,168.1 473.6,169.1 474.1,170.2 474.5,171.2 474.9,172.2 475.4,173.2 475.8,174.2 476.3,175.2 476.7,176.2 477.2,177.2 477.7,178.1 478.1,179.1 478.6,180.0 479.1,181.0 479.6,181.9 480.1,182.8 480.6,183.7 481.1,184.6 481.6,185.5 482.1,186.3 482.6,187.2 483.1,188.0 483.7,188.9 484.2,189.7 484.8,190.5 485.3,191.3 485.9,192.1 486.5,192.9 487.0,193.6 487.6,194.4 488.2,195.1 488.8,195.8 489.4,196.5 490.1,197.2 490.7,197.9 491.3,198.6 492.0,199.3 492.7,199.9 493.3,200.6 494.0,201.2 494.7,201.8 495.4,202.4 496.1,203.0 496.8,203.5 497.6,204.1 498.3,204.6 499.1,205.2 499.9,205.7 500.6,206.2 501.4,206.7 502.2,207.1 503.1,207.6 503.9,208.0 504.7,208.5 505.6,208.9 506.5,209.3 507.3,209.7 508.2,210.0 509.1,210.4 509.9,210.7 510.8,211.0 511.7,211.4 512.5,211.6 513.4,211.9 514.2,212.2 515.0,212.4 515.8,212.7 516.6,212.9 517.4,213.1 518.1,213.3 518.8,213.5 519.5,213.6 520.1,213.8 520.7,213.9 521.3,214.0 521.8,214.1 522.3,214.2 522.7,214.3 523.1,214.3 523.5,214.4 523.8,214.4 524.0,214.4 528.0,214.4" stroke="#FF5A3C"/>
<path d="M429.9,6.2 432.9,6.2 433.4,6.2 433.8,6.2 434.2,6.3 434.6,6.3 435.0,6.4 435.4,6.5 435.8,6.6 436.2,6.7 436.6,6.8 437.0,7.0 437.4,7.1 437.8,7.3 438.2,7.5 438.6,7.7 439.0,7.9 439.4,8.2 439.8,8.4 440.2,8.7 440.6,9.0 441.0,9.2 441.4,9.6 441.8,9.9 442.2,10.2 442.6,10.6 443.0,10.9 443.4,11.3 443.8,11.7 444.2,12.1 444.5,12.6 444.9,13.0 445.3,13.5 445.7,13.9 446.1,14.4 446.5,14.9 446.9,15.4 447.2,16.0 447.6,16.5 448.0,17.1 448.4,17.6 448.8,18.2 449.1,18.8 449.5,19.4 449.9,20.0 450.3,20.7 450.6,21.3 451.0,22.0 451.4,22.7 451.8,23.4 452.1,24.1 452.5,24.8 452.9,25.5 453.3,26.2 453.6,27.0 454.0,27.7 454.4,28.5 454.7,29.3 455.1,30.1 455.5,30.9 455.9,31.7 456.2,32.6 456.6,33.4 457.0,34.3 457.3,35.1 457.7,36.0 458.1,36.9 458.4,37.8 458.8,38.7 459.1,39.6 459.5,40.6 459.9,41.5 460.2,42.5 460.6,43.4 461.0,44.4 461.3,45.4 461.7,46.4 462.0,47.4 462.4,48.4 462.8,49.4 463.1,50.4 463.5,51.5 463.8,52.5 464.2,53.6 464.6,54.6 464.9,55.7 465.3,56.8 465.6,57.9 466.0,59.0 466.4,60.1 466.7,61.2 467.1,62.3 467.4,63.4 467.8,64.6 468.1,65.7 468.5,66.8 468.8,68.0 469.2,69.2 469.6,70.3 469.9,71.5 470.3,72.7 470.6,73.8 471.0,75.0 471.3,76.2 471.7,77.4 472.0,78.6 472.4,79.8 472.7,81.0 473.1,82.2 473.4,83.5 473.8,84.7 474.2,85.9 474.5,87.1 474.9,88.4 475.2,89.6 475.6,90.8 475.9,92.1 476.3,93.3 476.6,94.6 477.0,95.8 477.3,97.1 477.7,98.3 478.0,99.6 478.4,100.8 478.7,102.1 479.1,103.4 479.4,104.6 479.8,105.9 480.2,107.1 480.5,108.4 480.9,109.7 481.2,110.9 481.6,112.2 481.9,113.5 482.3,114.7 482.6,116.0 483.0,117.2 483.3,118.5 483.7,119.8 484.0,121.0 484.4,122.3 484.8,123.5 485.1,124.8 485.5,126.0 485.8,127.3 486.2,128.5 486.5,129.8 486.9,131.0 487.2,132.2 487.6,133.5 488.0,134.7 488.3,135.9 488.7,137.1 489.0,138.4 489.4,139.6 489.7,140.8 490.1,142.0 490.5,143.2 490.8,144.4 491.2,145.6 491.5,146.8 491.9,147.9 492.3,149.1 492.6,150.3 493.0,151.4 493.4,152.6 493.7,153.8 494.1,154.9 494.5,156.0 494.8,157.2 495.2,158.3 495.6,159.4 496.0,160.5 496.4,161.6 496.7,162.7 497.1,163.8 497.5,164.9 497.9,166.0 498.3,167.0 498.7,168.1 499.1,169.1 499.5,170.2 499.9,171.2 500.3,172.2 500.8,173.2 501.2,174.2 501.6,175.2 502.0,176.2 502.5,177.2 502.9,178.1 503.3,179.1 503.8,180.0 504.2,181.0 504.7,181.9 505.2,182.8 505.6,183.7 506.1,184.6 506.6,185.5 507.0,186.3 507.5,187.2 508.0,188.0 508.5,188.9 509.0,189.7 509.5,190.5 510.0,191.3 510.6,192.1 511.1,192.9 511.6,193.6 512.2,194.4 512.7,195.1 513.2,195.8 513.8,196.5 514.4,197.2 514.9,197.9 515.5,198.6 516.0,199.3 516.6,199.9 517.2,200.6 517.8,201.2 518.3,201.8 518.9,202.4 519.5,203.0 520.1,203.5 520.7,204.1 521.3,204.6 521.9,205.2 522.5,205.7 523.1,206.2 523.7,206.7 524.3,207.1 524.9,207.6 525.5,208.0 526.1,208.5 526.7,208.9 527.3,209.3 527.9,209.7 528.5,210.0 529.1,210.4 529.7,210.7 530.3,211.0 530.9,211.4 531.5,211.6 532.1,211.9 532.8,212.2 533.3,212.4 533.9,212.7 534.5,212.9 535.1,213.1 535.7,213.3 536.3,213.5 536.9,213.6 537.5,213.8 538.1,213.9 538.7,214.0 539.2,214.1 539.8,214.2 540.4,214.3 540.9,214.3 541.5,214.4 542.0,214.4 542.6,214.4 546.6,214.4" stroke="#17908F"/>
<path d="M455.6,6.2 458.6,6.2 458.9,6.2 459.2,6.2 459.4,6.3 459.7,6.3 460.0,6.4 460.3,6.5 460.5,6.6 460.8,6.7 461.1,6.8 461.4,7.0 461.6,7.1 461.9,7.3 462.2,7.5 462.5,7.7 462.8,7.9 463.1,8.2 463.4,8.4 463.7,8.7 463.9,9.0 464.2,9.2 464.5,9.6 464.8,9.9 465.1,10.2 465.4,10.6 465.7,10.9 466.0,11.3 466.3,11.7 466.6,12.1 466.9,12.6 467.2,13.0 467.5,13.5 467.9,13.9 468.2,14.4 468.5,14.9 468.8,15.4 469.1,16.0 469.4,16.5 469.7,17.1 470.0,17.6 470.4,18.2 470.7,18.8 471.0,19.4 471.3,20.0 471.6,20.7 471.9,21.3 472.3,22.0 472.6,22.7 472.9,23.4 473.2,24.1 473.5,24.8 473.9,25.5 474.2,26.2 474.5,27.0 474.8,27.7 475.2,28.5 475.5,29.3 475.8,30.1 476.1,30.9 476.5,31.7 476.8,32.6 477.1,33.4 477.5,34.3 477.8,35.1 478.1,36.0 478.5,36.9 478.8,37.8 479.1,38.7 479.4,39.6 479.8,40.6 480.1,41.5 480.4,42.5 480.8,43.4 481.1,44.4 481.4,45.4 481.8,46.4 482.1,47.4 482.4,48.4 482.8,49.4 483.1,50.4 483.5,51.5 483.8,52.5 484.1,53.6 484.5,54.6 484.8,55.7 485.1,56.8 485.5,57.9 485.8,59.0 486.1,60.1 486.5,61.2 486.8,62.3 487.1,63.4 487.5,64.6 487.8,65.7 488.1,66.8 488.5,68.0 488.8,69.2 489.1,70.3 489.5,71.5 489.8,72.7 490.1,73.8 490.5,75.0 490.8,76.2 491.1,77.4 491.5,78.6 491.8,79.8 492.1,81.0 492.4,82.2 492.8,83.5 493.1,84.7 493.4,85.9 493.8,87.1 494.1,88.4 494.4,89.6 494.7,90.8 495.1,92.1 495.4,93.3 495.7,94.6 496.0,95.8 496.4,97.1 496.7,98.3 497.0,99.6 497.3,100.8 497.7,102.1 498.0,103.4 498.3,104.6 498.6,105.9 498.9,107.1 499.2,108.4 499.6,109.7 499.9,110.9 500.2,112.2 500.5,113.5 500.8,114.7 501.1,116.0 501.4,117.2 501.8,118.5 502.1,119.8 502.4,121.0 502.7,122.3 503.0,123.5 503.3,124.8 503.6,126.0 503.9,127.3 504.2,128.5 504.5,129.8 504.8,131.0 505.1,132.2 505.4,133.5 505.7,134.7 506.0,135.9 506.3,137.1 506.6,138.4 506.9,139.6 507.2,140.8 507.5,142.0 507.7,143.2 508.0,144.4 508.3,145.6 508.6,146.8 508.9,147.9 509.2,149.1 509.5,150.3 509.8,151.4 510.1,152.6 510.4,153.8 510.7,154.9 511.1,156.0 511.4,157.2 511.7,158.3 512.0,159.4 512.3,160.5 512.6,161.6 513.0,162.7 513.3,163.8 513.6,164.9 513.9,166.0 514.3,167.0 514.6,168.1 515.0,169.1 515.3,170.2 515.7,171.2 516.0,172.2 516.4,173.2 516.7,174.2 517.1,175.2 517.5,176.2 517.9,177.2 518.3,178.1 518.6,179.1 519.0,180.0 519.4,181.0 519.9,181.9 520.3,182.8 520.7,183.7 521.1,184.6 521.5,185.5 522.0,186.3 522.4,187.2 522.9,188.0 523.3,188.9 523.8,189.7 524.3,190.5 524.7,191.3 525.2,192.1 525.7,192.9 526.2,193.6 526.7,194.4 527.2,195.1 527.7,195.8 528.2,196.5 528.7,197.2 529.2,197.9 529.7,198.6 530.2,199.3 530.7,199.9 531.3,200.6 531.8,201.2 532.3,201.8 532.9,202.4 533.4,203.0 533.9,203.5 534.5,204.1 535.0,204.6 535.6,205.2 536.1,205.7 536.7,206.2 537.2,206.7 537.8,207.1 538.3,207.6 538.9,208.0 539.4,208.5 540.0,208.9 540.5,209.3 541.1,209.7 541.7,210.0 542.2,210.4 542.8,210.7 543.3,211.0 543.9,211.4 544.4,211.6 545.0,211.9 545.5,212.2 546.1,212.4 546.6,212.7 547.2,212.9 547.7,213.1 548.3,213.3 548.8,213.5 549.4,213.6 549.9,213.8 550.4,213.9 551.0,214.0 551.5,214.1 552.0,214.2 552.5,214.3 553.1,214.3 553.6,214.4 554.1,214.4 554.6,214.4 558.6,214.4" stroke="#A21FA0"/>
<path d="M486.0,6.2 489.0,6.2 489.2,6.2 489.4,6.2 489.6,6.3 489.8,6.3 490.0,6.4 490.2,6.5 490.5,6.6 490.7,6.7 490.9,6.8 491.1,7.0 491.3,7.1 491.6,7.3 491.8,7.5 492.0,7.7 492.2,7.9 492.4,8.2 492.7,8.4 492.9,8.7 493.1,9.0 493.3,9.2 493.6,9.6 493.8,9.9 494.0,10.2 494.2,10.6 494.5,10.9 494.7,11.3 494.9,11.7 495.1,12.1 495.4,12.6 495.6,13.0 495.8,13.5 496.0,13.9 496.3,14.4 496.5,14.9 496.7,15.4 497.0,16.0 497.2,16.5 497.4,17.1 497.7,17.6 497.9,18.2 498.1,18.8 498.4,19.4 498.6,20.0 498.8,20.7 499.1,21.3 499.3,22.0 499.5,22.7 499.8,23.4 500.0,24.1 500.2,24.8 500.5,25.5 500.7,26.2 500.9,27.0 501.2,27.7 501.4,28.5 501.6,29.3 501.9,30.1 502.1,30.9 502.4,31.7 502.6,32.6 502.8,33.4 503.1,34.3 503.3,35.1 503.5,36.0 503.8,36.9 504.0,37.8 504.3,38.7 504.5,39.6 504.7,40.6 505.0,41.5 505.2,42.5 505.4,43.4 505.7,44.4 505.9,45.4 506.2,46.4 506.4,47.4 506.6,48.4 506.9,49.4 507.1,50.4 507.4,51.5 507.6,52.5 507.8,53.6 508.1,54.6 508.3,55.7 508.6,56.8 508.8,57.9 509.0,59.0 509.3,60.1 509.5,61.2 509.7,62.3 510.0,63.4 510.2,64.6 510.5,65.7 510.7,66.8 510.9,68.0 511.2,69.2 511.4,70.3 511.6,71.5 511.9,72.7 512.1,73.8 512.4,75.0 512.6,76.2 512.8,77.4 513.1,78.6 513.3,79.8 513.6,81.0 513.8,82.2 514.0,83.5 514.3,84.7 514.5,85.9 514.8,87.1 515.0,88.4 515.2,89.6 515.5,90.8 515.7,92.1 516.0,93.3 516.2,94.6 516.5,95.8 516.7,97.1 517.0,98.3 517.2,99.6 517.5,100.8 517.7,102.1 518.0,103.4 518.2,104.6 518.5,105.9 518.7,107.1 519.0,108.4 519.2,109.7 519.5,110.9 519.8,112.2 520.0,113.5 520.3,114.7 520.6,116.0 520.8,117.2 521.1,118.5 521.4,119.8 521.6,121.0 521.9,122.3 522.2,123.5 522.5,124.8 522.7,126.0 523.0,127.3 523.3,128.5 523.6,129.8 523.9,131.0 524.2,132.2 524.4,133.5 524.7,134.7 525.0,135.9 525.3,137.1 525.6,138.4 525.9,139.6 526.2,140.8 526.5,142.0 526.8,143.2 527.1,144.4 527.4,145.6 527.8,146.8 528.1,147.9 528.4,149.1 528.7,150.3 529.0,151.4 529.3,152.6 529.7,153.8 530.0,154.9 530.3,156.0 530.6,157.2 531.0,158.3 531.3,159.4 531.6,160.5 532.0,161.6 532.3,162.7 532.7,163.8 533.0,164.9 533.4,166.0 533.7,167.0 534.1,168.1 534.4,169.1 534.8,170.2 535.2,171.2 535.5,172.2 535.9,173.2 536.3,174.2 536.6,175.2 537.0,176.2 537.4,177.2 537.7,178.1 538.1,179.1 538.5,180.0 538.9,181.0 539.3,181.9 539.7,182.8 540.0,183.7 540.4,184.6 540.8,185.5 541.2,186.3 541.6,187.2 542.0,188.0 542.4,188.9 542.8,189.7 543.2,190.5 543.6,191.3 544.0,192.1 544.4,192.9 544.8,193.6 545.2,194.4 545.6,195.1 546.0,195.8 546.4,196.5 546.8,197.2 547.2,197.9 547.6,198.6 548.0,199.3 548.4,199.9 548.8,200.6 549.2,201.2 549.6,201.8 550.0,202.4 550.4,203.0 550.8,203.5 551.2,204.1 551.6,204.6 552.0,205.2 552.4,205.7 552.8,206.2 553.2,206.7 553.6,207.1 554.0,207.6 554.4,208.0 554.8,208.5 555.2,208.9 555.6,209.3 556.0,209.7 556.4,210.0 556.8,210.4 557.2,210.7 557.5,211.0 557.9,211.4 558.3,211.6 558.7,211.9 559.1,212.2 559.4,212.4 559.8,212.7 560.2,212.9 560.6,213.1 560.9,213.3 561.3,213.5 561.6,213.6 562.0,213.8 562.4,213.9 562.7,214.0 563.1,214.1 563.4,214.2 563.8,214.3 564.1,214.3 564.4,214.4 564.8,214.4 565.1,214.4 569.1,214.4" stroke="#AA2A2E"/>
<path d="M527.0,6.2 530.0,6.2 530.2,6.2 530.4,6.2 530.5,6.3 530.7,6.3 530.9,6.4 531.0,6.5 531.2,6.6 531.4,6.7 531.6,6.8 531.7,7.0 531.9,7.1 532.1,7.3 532.2,7.5 532.4,7.7 532.6,7.9 532.7,8.2 532.9,8.4 533.1,8.7 533.2,9.0 533.4,9.2 533.6,9.6 533.7,9.9 533.9,10.2 534.1,10.6 534.2,10.9 534.4,11.3 534.6,11.7 534.7,12.1 534.9,12.6 535.1,13.0 535.2,13.5 535.4,13.9 535.6,14.4 535.7,14.9 535.9,15.4 536.1,16.0 536.2,16.5 536.4,17.1 536.6,17.6 536.7,18.2 536.9,18.8 537.0,19.4 537.2,20.0 537.4,20.7 537.5,21.3 537.7,22.0 537.9,22.7 538.0,23.4 538.2,24.1 538.4,24.8 538.5,25.5 538.7,26.2 538.9,27.0 539.1,27.7 539.2,28.5 539.4,29.3 539.6,30.1 539.7,30.9 539.9,31.7 540.1,32.6 540.2,33.4 540.4,34.3 540.6,35.1 540.7,36.0 540.9,36.9 541.1,37.8 541.2,38.7 541.4,39.6 541.6,40.6 541.8,41.5 541.9,42.5 542.1,43.4 542.3,44.4 542.4,45.4 542.6,46.4 542.8,47.4 543.0,48.4 543.1,49.4 543.3,50.4 543.5,51.5 543.7,52.5 543.8,53.6 544.0,54.6 544.2,55.7 544.4,56.8 544.5,57.9 544.7,59.0 544.9,60.1 545.1,61.2 545.2,62.3 545.4,63.4 545.6,64.6 545.8,65.7 546.0,66.8 546.1,68.0 546.3,69.2 546.5,70.3 546.7,71.5 546.9,72.7 547.0,73.8 547.2,75.0 547.4,76.2 547.6,77.4 547.8,78.6 548.0,79.8 548.1,81.0 548.3,82.2 548.5,83.5 548.7,84.7 548.9,85.9 549.1,87.1 549.3,88.4 549.5,89.6 549.7,90.8 549.8,92.1 550.0,93.3 550.2,94.6 550.4,95.8 550.6,97.1 550.8,98.3 551.0,99.6 551.2,100.8 551.4,102.1 551.6,103.4 551.8,104.6 552.0,105.9 552.2,107.1 552.4,108.4 552.6,109.7 552.8,110.9 553.0,112.2 553.2,113.5 553.4,114.7 553.6,116.0 553.8,117.2 554.0,118.5 554.2,119.8 554.4,121.0 554.6,122.3 554.8,123.5 555.1,124.8 555.3,126.0 555.5,127.3 555.7,128.5 555.9,129.8 556.1,131.0 556.3,132.2 556.5,133.5 556.8,134.7 557.0,135.9 557.2,137.1 557.4,138.4 557.6,139.6 557.9,140.8 558.1,142.0 558.3,143.2 558.5,144.4 558.7,145.6 559.0,146.8 559.2,147.9 559.4,149.1 559.7,150.3 559.9,151.4 560.1,152.6 560.3,153.8 560.6,154.9 560.8,156.0 561.0,157.2 561.3,158.3 561.5,159.4 561.7,160.5 562.0,161.6 562.2,162.7 562.5,163.8 562.7,164.9 562.9,166.0 563.2,167.0 563.4,168.1 563.7,169.1 563.9,170.2 564.1,171.2 564.4,172.2 564.6,173.2 564.9,174.2 565.1,175.2 565.4,176.2 565.6,177.2 565.9,178.1 566.1,179.1 566.4,180.0 566.6,181.0 566.9,181.9 567.2,182.8 567.4,183.7 567.7,184.6 567.9,185.5 568.2,186.3 568.4,187.2 568.7,188.0 569.0,188.9 569.2,189.7 569.5,190.5 569.8,191.3 570.0,192.1 570.3,192.9 570.6,193.6 570.8,194.4 571.1,195.1 571.4,195.8 571.6,196.5 571.9,197.2 572.2,197.9 572.5,198.6 572.7,199.3 573.0,199.9 573.3,200.6 573.6,201.2 573.9,201.8 574.1,202.4 574.4,203.0 574.7,203.5 575.0,204.1 575.3,204.6 575.6,205.2 575.8,205.7 576.1,206.2 576.4,206.7 576.7,207.1 577.0,207.6 577.3,208.0 577.6,208.5 577.9,208.9 578.2,209.3 578.5,209.7 578.8,210.0 579.1,210.4 579.4,210.7 579.7,211.0 580.0,211.4 580.3,211.6 580.6,211.9 580.9,212.2 581.2,212.4 581.5,212.7 581.8,212.9 582.1,213.1 582.4,213.3 582.7,213.5 583.0,213.6 583.3,213.8 583.6,213.9 583.9,214.0 584.3,214.1 584.6,214.2 584.9,214.3 585.2,214.3 585.5,214.4 585.8,214.4 586.2,214.4 590.2,214.4" stroke="#939393"/>
<path d="M564.1,6.2 567.1,6.2 567.2,6.2 567.3,6.2 567.5,6.3 567.6,6.3 567.7,6.4 567.9,6.5 568.0,6.6 568.1,6.7 568.2,6.8 568.4,7.0 568.5,7.1 568.6,7.3 568.7,7.5 568.9,7.7 569.0,7.9 569.1,8.2 569.2,8.4 569.4,8.7 569.5,9.0 569.6,9.2 569.7,9.6 569.9,9.9 570.0,10.2 570.1,10.6 570.2,10.9 570.3,11.3 570.5,11.7 570.6,12.1 570.7,12.6 570.8,13.0 571.0,13.5 571.1,13.9 571.2,14.4 571.3,14.9 571.4,15.4 571.6,16.0 571.7,16.5 571.8,17.1 571.9,17.6 572.0,18.2 572.2,18.8 572.3,19.4 572.4,20.0 572.5,20.7 572.7,21.3 572.8,22.0 572.9,22.7 573.0,23.4 573.1,24.1 573.3,24.8 573.4,25.5 573.5,26.2 573.6,27.0 573.7,27.7 573.9,28.5 574.0,29.3 574.1,30.1 574.2,30.9 574.4,31.7 574.5,32.6 574.6,33.4 574.7,34.3 574.9,35.1 575.0,36.0 575.1,36.9 575.2,37.8 575.3,38.7 575.5,39.6 575.6,40.6 575.7,41.5 575.8,42.5 576.0,43.4 576.1,44.4 576.2,45.4 576.3,46.4 576.5,47.4 576.6,48.4 576.7,49.4 576.9,50.4 577.0,51.5 577.1,52.5 577.2,53.6 577.4,54.6 577.5,55.7 577.6,56.8 577.8,57.9 577.9,59.0 578.0,60.1 578.2,61.2 578.3,62.3 578.4,63.4 578.5,64.6 578.7,65.7 578.8,66.8 578.9,68.0 579.1,69.2 579.2,70.3 579.4,71.5 579.5,72.7 579.6,73.8 579.8,75.0 579.9,76.2 580.0,77.4 580.2,78.6 580.3,79.8 580.5,81.0 580.6,82.2 580.7,83.5 580.9,84.7 581.0,85.9 581.2,87.1 581.3,88.4 581.5,89.6 581.6,90.8 581.7,92.1 581.9,93.3 582.0,94.6 582.2,95.8 582.3,97.1 582.5,98.3 582.6,99.6 582.8,100.8 582.9,102.1 583.1,103.4 583.2,104.6 583.4,105.9 583.5,107.1 583.7,108.4 583.9,109.7 584.0,110.9 584.2,112.2 584.3,113.5 584.5,114.7 584.6,116.0 584.8,117.2 585.0,118.5 585.1,119.8 585.3,121.0 585.5,122.3 585.6,123.5 585.8,124.8 586.0,126.0 586.1,127.3 586.3,128.5 586.5,129.8 586.6,131.0 586.8,132.2 587.0,133.5 587.2,134.7 587.3,135.9 587.5,137.1 587.7,138.4 587.9,139.6 588.0,140.8 588.2,142.0 588.4,143.2 588.6,144.4 588.8,145.6 588.9,146.8 589.1,147.9 589.3,149.1 589.5,150.3 589.7,151.4 589.9,152.6 590.1,153.8 590.2,154.9 590.4,156.0 590.6,157.2 590.8,158.3 591.0,159.4 591.2,160.5 591.4,161.6 591.6,162.7 591.8,163.8 592.0,164.9 592.2,166.0 592.4,167.0 592.6,168.1 592.8,169.1 593.0,170.2 593.2,171.2 593.4,172.2 593.6,173.2 593.8,174.2 594.0,175.2 594.2,176.2 594.4,177.2 594.6,178.1 594.9,179.1 595.1,180.0 595.3,181.0 595.5,181.9 595.7,182.8 595.9,183.7 596.1,184.6 596.3,185.5 596.6,186.3 596.8,187.2 597.0,188.0 597.2,188.9 597.4,189.7 597.7,190.5 597.9,191.3 598.1,192.1 598.3,192.9 598.6,193.6 598.8,194.4 599.0,195.1 599.2,195.8 599.5,196.5 599.7,197.2 599.9,197.9 600.2,198.6 600.4,199.3 600.6,199.9 600.9,200.6 601.1,201.2 601.3,201.8 601.6,202.4 601.8,203.0 602.0,203.5 602.3,204.1 602.5,204.6 602.8,205.2 603.0,205.7 603.2,206.2 603.5,206.7 603.7,207.1 604.0,207.6 604.2,208.0 604.5,208.5 604.7,208.9 605.0,209.3 605.2,209.7 605.5,210.0 605.7,210.4 606.0,210.7 606.2,211.0 606.5,211.4 606.7,211.6 607.0,211.9 607.2,212.2 607.5,212.4 607.7,212.7 608.0,212.9 608.3,213.1 608.5,213.3 608.8,213.5 609.0,213.6 609.3,213.8 609.6,213.9 609.8,214.0 610.1,214.1 610.3,214.2 610.6,214.3 610.9,214.3 611.1,214.4 611.4,214.4 611.7,214.4 615.7,214.4" stroke="#2020A0"/>
</g>
<text x="372.00" y="217.50" font-size="9.7" text-anchor="end" >0</text>
<text x="372.00" y="175.86" font-size="9.7" text-anchor="end" >20</text>
<text x="372.00" y="134.22" font-size="9.7" text-anchor="end" >40</text>
<text x="372.00" y="92.58" font-size="9.7" text-anchor="end" >60</text>
<text x="372.00" y="50.94" font-size="9.7" text-anchor="end" >80</text>
<text x="372.00" y="9.30" font-size="9.7" text-anchor="end" >100</text>
<text x="377.00" y="227.00" font-size="9.7" text-anchor="middle" >100</text>
<text x="439.44" y="227.00" font-size="9.7" text-anchor="middle" >120</text>
<text x="501.89" y="227.00" font-size="9.7" text-anchor="middle" >140</text>
<text x="564.33" y="227.00" font-size="9.7" text-anchor="middle" >160</text>
<text x="626.78" y="227.00" font-size="9.7" text-anchor="middle" >180</text>
<text x="486.60" y="244.50" font-size="10.2" text-anchor="start" >Temperature (°C)</text>
<text transform="translate(351.40,175.70) rotate(-90)" font-size="10.15">Relative crystallinity (%)</text>
<text x="604.80" y="19.80" font-size="9.7">PLGA<tspan font-size="8.0">9/91</tspan></text>
<line x1="386.20" y1="141.20" x2="409.70" y2="141.20" stroke="#FF5A3C" stroke-width="1.7" stroke-linecap="butt"/>
<text x="412.30" y="144.70" font-size="10" text-anchor="start" >10 °C/min</text>
<line x1="386.20" y1="153.40" x2="409.70" y2="153.40" stroke="#17908F" stroke-width="1.7" stroke-linecap="butt"/>
<text x="412.30" y="156.90" font-size="10" text-anchor="start" >7°C/min</text>
<line x1="386.20" y1="165.60" x2="409.70" y2="165.60" stroke="#A21FA0" stroke-width="1.7" stroke-linecap="butt"/>
<text x="412.30" y="169.10" font-size="10" text-anchor="start" >5°C/min</text>
<line x1="386.20" y1="177.70" x2="409.70" y2="177.70" stroke="#AA2A2E" stroke-width="1.7" stroke-linecap="butt"/>
<text x="412.30" y="181.20" font-size="10" text-anchor="start" >3 °C/min</text>
<line x1="386.20" y1="189.70" x2="409.70" y2="189.70" stroke="#939393" stroke-width="1.7" stroke-linecap="butt"/>
<text x="412.30" y="193.20" font-size="10" text-anchor="start" >1 °C/min</text>
<line x1="386.20" y1="202.30" x2="409.70" y2="202.30" stroke="#2020A0" stroke-width="1.7" stroke-linecap="butt"/>
<text x="412.30" y="205.80" font-size="10" text-anchor="start" >0.5°C/min</text>
<rect x="48.50" y="255.50" width="283.00" height="211.00" fill="none" stroke="#555555" stroke-width="1.0"/>
<line x1="48.50" y1="466.50" x2="52.50" y2="466.50" stroke="#555555" stroke-width="1"/>
<line x1="48.50" y1="445.50" x2="50.50" y2="445.50" stroke="#555555" stroke-width="1"/>
<line x1="48.50" y1="424.50" x2="52.50" y2="424.50" stroke="#555555" stroke-width="1"/>
<line x1="48.50" y1="403.50" x2="50.50" y2="403.50" stroke="#555555" stroke-width="1"/>
<line x1="48.50" y1="382.50" x2="52.50" y2="382.50" stroke="#555555" stroke-width="1"/>
<line x1="48.50" y1="361.50" x2="50.50" y2="361.50" stroke="#555555" stroke-width="1"/>
<line x1="48.50" y1="340.50" x2="52.50" y2="340.50" stroke="#555555" stroke-width="1"/>
<line x1="48.50" y1="319.50" x2="50.50" y2="319.50" stroke="#555555" stroke-width="1"/>
<line x1="48.50" y1="298.50" x2="52.50" y2="298.50" stroke="#555555" stroke-width="1"/>
<line x1="48.50" y1="277.50" x2="50.50" y2="277.50" stroke="#555555" stroke-width="1"/>
<line x1="48.50" y1="256.50" x2="52.50" y2="256.50" stroke="#555555" stroke-width="1"/>
<line x1="89.50" y1="466.50" x2="89.50" y2="464.50" stroke="#555555" stroke-width="1"/>
<line x1="131.50" y1="466.50" x2="131.50" y2="462.50" stroke="#555555" stroke-width="1"/>
<line x1="173.50" y1="466.50" x2="173.50" y2="464.50" stroke="#555555" stroke-width="1"/>
<line x1="215.50" y1="466.50" x2="215.50" y2="462.50" stroke="#555555" stroke-width="1"/>
<line x1="256.50" y1="466.50" x2="256.50" y2="464.50" stroke="#555555" stroke-width="1"/>
<line x1="298.50" y1="466.50" x2="298.50" y2="462.50" stroke="#555555" stroke-width="1"/>
<clipPath id="c3"><rect x="48.20" y="254.80" width="283.60" height="211.50"/></clipPath>
<g clip-path="url(#c3)" fill="none" stroke-width="1.35" stroke-linejoin="round" stroke-linecap="round">
<path d="M80.4,256.0 83.4,256.0 83.7,256.0 84.0,256.0 84.4,256.1 84.7,256.1 85.0,256.2 85.3,256.3 85.7,256.4 86.0,256.5 86.3,256.6 86.6,256.8 87.0,256.9 87.3,257.1 87.6,257.3 87.9,257.5 88.2,257.7 88.6,258.0 88.9,258.2 89.2,258.5 89.5,258.8 89.8,259.1 90.2,259.4 90.5,259.7 90.8,260.1 91.1,260.4 91.4,260.8 91.7,261.2 92.0,261.6 92.4,262.0 92.7,262.4 93.0,262.9 93.3,263.3 93.6,263.8 93.9,264.3 94.2,264.8 94.5,265.3 94.9,265.9 95.2,266.4 95.5,267.0 95.8,267.5 96.1,268.1 96.4,268.7 96.7,269.4 97.0,270.0 97.3,270.6 97.6,271.3 97.9,271.9 98.2,272.6 98.5,273.3 98.9,274.0 99.2,274.8 99.5,275.5 99.8,276.2 100.1,277.0 100.4,277.8 100.7,278.5 101.0,279.3 101.3,280.1 101.6,281.0 101.9,281.8 102.2,282.6 102.5,283.5 102.8,284.4 103.1,285.2 103.4,286.1 103.7,287.0 104.0,287.9 104.3,288.9 104.6,289.8 104.9,290.7 105.2,291.7 105.5,292.6 105.8,293.6 106.2,294.6 106.5,295.6 106.8,296.6 107.1,297.6 107.4,298.6 107.7,299.7 108.0,300.7 108.3,301.7 108.6,302.8 108.9,303.9 109.2,304.9 109.5,306.0 109.8,307.1 110.1,308.2 110.4,309.3 110.7,310.4 111.0,311.5 111.3,312.7 111.6,313.8 111.9,315.0 112.2,316.1 112.5,317.3 112.8,318.4 113.1,319.6 113.4,320.8 113.7,321.9 114.0,323.1 114.3,324.3 114.6,325.5 114.9,326.7 115.3,327.9 115.6,329.1 115.9,330.4 116.2,331.6 116.5,332.8 116.8,334.0 117.1,335.3 117.4,336.5 117.7,337.8 118.0,339.0 118.3,340.2 118.6,341.5 118.9,342.8 119.2,344.0 119.5,345.3 119.9,346.5 120.2,347.8 120.5,349.1 120.8,350.3 121.1,351.6 121.4,352.9 121.7,354.1 122.0,355.4 122.3,356.7 122.7,358.0 123.0,359.2 123.3,360.5 123.6,361.8 123.9,363.1 124.2,364.3 124.5,365.6 124.9,366.9 125.2,368.2 125.5,369.4 125.8,370.7 126.1,372.0 126.4,373.2 126.8,374.5 127.1,375.8 127.4,377.0 127.7,378.3 128.0,379.5 128.4,380.8 128.7,382.1 129.0,383.3 129.3,384.5 129.7,385.8 130.0,387.0 130.3,388.3 130.6,389.5 131.0,390.7 131.3,391.9 131.6,393.2 131.9,394.4 132.3,395.6 132.6,396.8 132.9,398.0 133.3,399.2 133.6,400.4 133.9,401.5 134.3,402.7 134.6,403.9 134.9,405.0 135.3,406.2 135.6,407.3 135.9,408.5 136.3,409.6 136.6,410.8 137.0,411.9 137.3,413.0 137.6,414.1 138.0,415.2 138.3,416.3 138.7,417.4 139.0,418.4 139.4,419.5 139.7,420.6 140.0,421.6 140.4,422.6 140.7,423.7 141.1,424.7 141.4,425.7 141.8,426.7 142.1,427.7 142.5,428.7 142.9,429.7 143.2,430.6 143.6,431.6 143.9,432.5 144.3,433.4 144.6,434.4 145.0,435.3 145.4,436.2 145.7,437.1 146.1,437.9 146.5,438.8 146.8,439.7 147.2,440.5 147.5,441.3 147.9,442.2 148.3,443.0 148.7,443.8 149.0,444.5 149.4,445.3 149.8,446.1 150.2,446.8 150.5,447.5 150.9,448.3 151.3,449.0 151.7,449.7 152.0,450.4 152.4,451.0 152.8,451.7 153.2,452.3 153.6,452.9 154.0,453.6 154.4,454.2 154.7,454.8 155.1,455.3 155.5,455.9 155.9,456.4 156.3,457.0 156.7,457.5 157.1,458.0 157.5,458.5 157.9,459.0 158.3,459.4 158.7,459.9 159.1,460.3 159.5,460.7 159.9,461.1 160.3,461.5 160.7,461.9 161.1,462.2 161.5,462.6 162.0,462.9 162.4,463.2 162.8,463.5 163.2,463.8 163.6,464.1 164.0,464.3 164.5,464.6 164.9,464.8 165.3,465.0 165.7,465.2 166.2,465.4 166.6,465.5 167.0,465.7 167.4,465.8 167.9,465.9 168.3,466.0 168.7,466.1 169.2,466.2 169.6,466.2 170.1,466.3 170.5,466.3 170.9,466.3 174.9,466.3" stroke="#FF5A3C"/>
<path d="M106.6,256.0 109.6,256.0 109.8,256.0 110.1,256.0 110.3,256.1 110.5,256.1 110.8,256.2 111.0,256.3 111.2,256.4 111.5,256.5 111.7,256.6 111.9,256.8 112.2,256.9 112.4,257.1 112.6,257.3 112.9,257.5 113.1,257.7 113.3,258.0 113.5,258.2 113.8,258.5 114.0,258.8 114.2,259.1 114.5,259.4 114.7,259.7 114.9,260.1 115.1,260.4 115.4,260.8 115.6,261.2 115.8,261.6 116.1,262.0 116.3,262.4 116.5,262.9 116.7,263.3 117.0,263.8 117.2,264.3 117.4,264.8 117.6,265.3 117.9,265.9 118.1,266.4 118.3,267.0 118.5,267.5 118.8,268.1 119.0,268.7 119.2,269.4 119.4,270.0 119.7,270.6 119.9,271.3 120.1,271.9 120.3,272.6 120.6,273.3 120.8,274.0 121.0,274.8 121.3,275.5 121.5,276.2 121.7,277.0 121.9,277.8 122.2,278.5 122.4,279.3 122.6,280.1 122.8,281.0 123.1,281.8 123.3,282.6 123.5,283.5 123.7,284.4 124.0,285.2 124.2,286.1 124.4,287.0 124.6,287.9 124.9,288.9 125.1,289.8 125.3,290.7 125.6,291.7 125.8,292.6 126.0,293.6 126.2,294.6 126.5,295.6 126.7,296.6 126.9,297.6 127.2,298.6 127.4,299.7 127.6,300.7 127.8,301.7 128.1,302.8 128.3,303.9 128.5,304.9 128.8,306.0 129.0,307.1 129.2,308.2 129.5,309.3 129.7,310.4 129.9,311.5 130.2,312.7 130.4,313.8 130.6,315.0 130.9,316.1 131.1,317.3 131.4,318.4 131.6,319.6 131.8,320.8 132.1,321.9 132.3,323.1 132.5,324.3 132.8,325.5 133.0,326.7 133.3,327.9 133.5,329.1 133.8,330.4 134.0,331.6 134.2,332.8 134.5,334.0 134.7,335.3 135.0,336.5 135.2,337.8 135.5,339.0 135.7,340.2 136.0,341.5 136.2,342.8 136.5,344.0 136.7,345.3 137.0,346.5 137.2,347.8 137.5,349.1 137.7,350.3 138.0,351.6 138.2,352.9 138.5,354.1 138.7,355.4 139.0,356.7 139.3,358.0 139.5,359.2 139.8,360.5 140.0,361.8 140.3,363.1 140.6,364.3 140.8,365.6 141.1,366.9 141.4,368.2 141.6,369.4 141.9,370.7 142.2,372.0 142.4,373.2 142.7,374.5 143.0,375.8 143.2,377.0 143.5,378.3 143.8,379.5 144.0,380.8 144.3,382.1 144.6,383.3 144.9,384.5 145.2,385.8 145.4,387.0 145.7,388.3 146.0,389.5 146.3,390.7 146.6,391.9 146.9,393.2 147.1,394.4 147.4,395.6 147.7,396.8 148.0,398.0 148.3,399.2 148.6,400.4 148.9,401.5 149.2,402.7 149.5,403.9 149.8,405.0 150.1,406.2 150.4,407.3 150.7,408.5 151.0,409.6 151.3,410.8 151.6,411.9 151.9,413.0 152.2,414.1 152.5,415.2 152.8,416.3 153.1,417.4 153.4,418.4 153.7,419.5 154.0,420.6 154.4,421.6 154.7,422.6 155.0,423.7 155.3,424.7 155.6,425.7 156.0,426.7 156.3,427.7 156.6,428.7 156.9,429.7 157.3,430.6 157.6,431.6 157.9,432.5 158.3,433.4 158.6,434.4 158.9,435.3 159.3,436.2 159.6,437.1 159.9,437.9 160.3,438.8 160.6,439.7 161.0,440.5 161.3,441.3 161.7,442.2 162.0,443.0 162.4,443.8 162.7,444.5 163.1,445.3 163.4,446.1 163.8,446.8 164.2,447.5 164.5,448.3 164.9,449.0 165.2,449.7 165.6,450.4 166.0,451.0 166.4,451.7 166.7,452.3 167.1,452.9 167.5,453.6 167.9,454.2 168.2,454.8 168.6,455.3 169.0,455.9 169.4,456.4 169.8,457.0 170.2,457.5 170.5,458.0 170.9,458.5 171.3,459.0 171.7,459.4 172.1,459.9 172.5,460.3 172.9,460.7 173.3,461.1 173.7,461.5 174.1,461.9 174.5,462.2 175.0,462.6 175.4,462.9 175.8,463.2 176.2,463.5 176.6,463.8 177.0,464.1 177.5,464.3 177.9,464.6 178.3,464.8 178.7,465.0 179.2,465.2 179.6,465.4 180.0,465.5 180.5,465.7 180.9,465.8 181.4,465.9 181.8,466.0 182.2,466.1 182.7,466.2 183.1,466.2 183.6,466.3 184.0,466.3 184.5,466.3 188.5,466.3" stroke="#17908F"/>
<path d="M128.4,256.0 131.4,256.0 131.6,256.0 131.8,256.0 132.1,256.1 132.3,256.1 132.5,256.2 132.8,256.3 133.0,256.4 133.3,256.5 133.5,256.6 133.7,256.8 134.0,256.9 134.2,257.1 134.4,257.3 134.7,257.5 134.9,257.7 135.1,258.0 135.4,258.2 135.6,258.5 135.8,258.8 136.1,259.1 136.3,259.4 136.5,259.7 136.8,260.1 137.0,260.4 137.2,260.8 137.5,261.2 137.7,261.6 137.9,262.0 138.2,262.4 138.4,262.9 138.6,263.3 138.9,263.8 139.1,264.3 139.3,264.8 139.5,265.3 139.8,265.9 140.0,266.4 140.2,267.0 140.5,267.5 140.7,268.1 140.9,268.7 141.2,269.4 141.4,270.0 141.6,270.6 141.9,271.3 142.1,271.9 142.3,272.6 142.5,273.3 142.8,274.0 143.0,274.8 143.2,275.5 143.5,276.2 143.7,277.0 143.9,277.8 144.2,278.5 144.4,279.3 144.6,280.1 144.9,281.0 145.1,281.8 145.3,282.6 145.5,283.5 145.8,284.4 146.0,285.2 146.2,286.1 146.5,287.0 146.7,287.9 146.9,288.9 147.2,289.8 147.4,290.7 147.6,291.7 147.9,292.6 148.1,293.6 148.3,294.6 148.6,295.6 148.8,296.6 149.0,297.6 149.3,298.6 149.5,299.7 149.7,300.7 150.0,301.7 150.2,302.8 150.4,303.9 150.7,304.9 150.9,306.0 151.1,307.1 151.4,308.2 151.6,309.3 151.8,310.4 152.1,311.5 152.3,312.7 152.5,313.8 152.8,315.0 153.0,316.1 153.3,317.3 153.5,318.4 153.7,319.6 154.0,320.8 154.2,321.9 154.4,323.1 154.7,324.3 154.9,325.5 155.2,326.7 155.4,327.9 155.6,329.1 155.9,330.4 156.1,331.6 156.4,332.8 156.6,334.0 156.9,335.3 157.1,336.5 157.3,337.8 157.6,339.0 157.8,340.2 158.1,341.5 158.3,342.8 158.6,344.0 158.8,345.3 159.1,346.5 159.3,347.8 159.5,349.1 159.8,350.3 160.0,351.6 160.3,352.9 160.5,354.1 160.8,355.4 161.0,356.7 161.3,358.0 161.5,359.2 161.8,360.5 162.0,361.8 162.3,363.1 162.6,364.3 162.8,365.6 163.1,366.9 163.3,368.2 163.6,369.4 163.8,370.7 164.1,372.0 164.3,373.2 164.6,374.5 164.9,375.8 165.1,377.0 165.4,378.3 165.6,379.5 165.9,380.8 166.2,382.1 166.4,383.3 166.7,384.5 167.0,385.8 167.2,387.0 167.5,388.3 167.8,389.5 168.0,390.7 168.3,391.9 168.6,393.2 168.8,394.4 169.1,395.6 169.4,396.8 169.7,398.0 169.9,399.2 170.2,400.4 170.5,401.5 170.8,402.7 171.1,403.9 171.3,405.0 171.6,406.2 171.9,407.3 172.2,408.5 172.5,409.6 172.8,410.8 173.1,411.9 173.4,413.0 173.6,414.1 173.9,415.2 174.2,416.3 174.5,417.4 174.8,418.4 175.1,419.5 175.4,420.6 175.7,421.6 176.1,422.6 176.4,423.7 176.7,424.7 177.0,425.7 177.3,426.7 177.6,427.7 177.9,428.7 178.2,429.7 178.6,430.6 178.9,431.6 179.2,432.5 179.5,433.4 179.9,434.4 180.2,435.3 180.5,436.2 180.9,437.1 181.2,437.9 181.5,438.8 181.9,439.7 182.2,440.5 182.6,441.3 182.9,442.2 183.3,443.0 183.6,443.8 184.0,444.5 184.3,445.3 184.7,446.1 185.0,446.8 185.4,447.5 185.8,448.3 186.1,449.0 186.5,449.7 186.9,450.4 187.2,451.0 187.6,451.7 188.0,452.3 188.4,452.9 188.8,453.6 189.2,454.2 189.5,454.8 189.9,455.3 190.3,455.9 190.7,456.4 191.1,457.0 191.5,457.5 191.9,458.0 192.3,458.5 192.7,459.0 193.2,459.4 193.6,459.9 194.0,460.3 194.4,460.7 194.8,461.1 195.3,461.5 195.7,461.9 196.1,462.2 196.6,462.6 197.0,462.9 197.4,463.2 197.9,463.5 198.3,463.8 198.8,464.1 199.2,464.3 199.7,464.6 200.2,464.8 200.6,465.0 201.1,465.2 201.6,465.4 202.0,465.5 202.5,465.7 203.0,465.8 203.5,465.9 204.0,466.0 204.5,466.1 204.9,466.2 205.4,466.2 205.9,466.3 206.4,466.3 207.0,466.3 211.0,466.3" stroke="#A21FA0"/>
<path d="M158.9,256.0 161.9,256.0 162.2,256.0 162.4,256.0 162.7,256.1 163.0,256.1 163.2,256.2 163.5,256.3 163.7,256.4 164.0,256.5 164.2,256.6 164.5,256.8 164.8,256.9 165.0,257.1 165.3,257.3 165.5,257.5 165.8,257.7 166.0,258.0 166.3,258.2 166.5,258.5 166.8,258.8 167.0,259.1 167.3,259.4 167.5,259.7 167.8,260.1 168.0,260.4 168.2,260.8 168.5,261.2 168.7,261.6 169.0,262.0 169.2,262.4 169.5,262.9 169.7,263.3 170.0,263.8 170.2,264.3 170.4,264.8 170.7,265.3 170.9,265.9 171.2,266.4 171.4,267.0 171.6,267.5 171.9,268.1 172.1,268.7 172.3,269.4 172.6,270.0 172.8,270.6 173.1,271.3 173.3,271.9 173.5,272.6 173.8,273.3 174.0,274.0 174.2,274.8 174.5,275.5 174.7,276.2 174.9,277.0 175.2,277.8 175.4,278.5 175.6,279.3 175.9,280.1 176.1,281.0 176.3,281.8 176.6,282.6 176.8,283.5 177.0,284.4 177.3,285.2 177.5,286.1 177.7,287.0 177.9,287.9 178.2,288.9 178.4,289.8 178.6,290.7 178.9,291.7 179.1,292.6 179.3,293.6 179.5,294.6 179.8,295.6 180.0,296.6 180.2,297.6 180.5,298.6 180.7,299.7 180.9,300.7 181.1,301.7 181.4,302.8 181.6,303.9 181.8,304.9 182.1,306.0 182.3,307.1 182.5,308.2 182.7,309.3 183.0,310.4 183.2,311.5 183.4,312.7 183.7,313.8 183.9,315.0 184.1,316.1 184.3,317.3 184.6,318.4 184.8,319.6 185.0,320.8 185.3,321.9 185.5,323.1 185.7,324.3 185.9,325.5 186.2,326.7 186.4,327.9 186.6,329.1 186.9,330.4 187.1,331.6 187.3,332.8 187.5,334.0 187.8,335.3 188.0,336.5 188.2,337.8 188.5,339.0 188.7,340.2 188.9,341.5 189.2,342.8 189.4,344.0 189.6,345.3 189.9,346.5 190.1,347.8 190.3,349.1 190.6,350.3 190.8,351.6 191.0,352.9 191.3,354.1 191.5,355.4 191.7,356.7 192.0,358.0 192.2,359.2 192.4,360.5 192.7,361.8 192.9,363.1 193.2,364.3 193.4,365.6 193.6,366.9 193.9,368.2 194.1,369.4 194.3,370.7 194.6,372.0 194.8,373.2 195.1,374.5 195.3,375.8 195.6,377.0 195.8,378.3 196.0,379.5 196.3,380.8 196.5,382.1 196.8,383.3 197.0,384.5 197.3,385.8 197.5,387.0 197.8,388.3 198.0,389.5 198.3,390.7 198.5,391.9 198.7,393.2 199.0,394.4 199.3,395.6 199.5,396.8 199.8,398.0 200.0,399.2 200.3,400.4 200.5,401.5 200.8,402.7 201.0,403.9 201.3,405.0 201.5,406.2 201.8,407.3 202.1,408.5 202.3,409.6 202.6,410.8 202.8,411.9 203.1,413.0 203.4,414.1 203.6,415.2 203.9,416.3 204.2,417.4 204.4,418.4 204.7,419.5 205.0,420.6 205.2,421.6 205.5,422.6 205.8,423.7 206.0,424.7 206.3,425.7 206.6,426.7 206.9,427.7 207.1,428.7 207.4,429.7 207.7,430.6 208.0,431.6 208.2,432.5 208.5,433.4 208.8,434.4 209.1,435.3 209.4,436.2 209.6,437.1 209.9,437.9 210.2,438.8 210.5,439.7 210.8,440.5 211.1,441.3 211.4,442.2 211.7,443.0 212.0,443.8 212.2,444.5 212.5,445.3 212.8,446.1 213.1,446.8 213.4,447.5 213.7,448.3 214.0,449.0 214.3,449.7 214.6,450.4 214.9,451.0 215.2,451.7 215.5,452.3 215.9,452.9 216.2,453.6 216.5,454.2 216.8,454.8 217.1,455.3 217.4,455.9 217.7,456.4 218.0,457.0 218.4,457.5 218.7,458.0 219.0,458.5 219.3,459.0 219.6,459.4 220.0,459.9 220.3,460.3 220.6,460.7 220.9,461.1 221.3,461.5 221.6,461.9 221.9,462.2 222.3,462.6 222.6,462.9 222.9,463.2 223.3,463.5 223.6,463.8 223.9,464.1 224.3,464.3 224.6,464.6 225.0,464.8 225.3,465.0 225.7,465.2 226.0,465.4 226.4,465.5 226.7,465.7 227.1,465.8 227.4,465.9 227.8,466.0 228.2,466.1 228.5,466.2 228.9,466.2 229.2,466.3 229.6,466.3 230.0,466.3 234.0,466.3" stroke="#AA2A2E"/>
<path d="M228.0,256.0 231.0,256.0 231.2,256.0 231.4,256.0 231.6,256.1 231.8,256.1 232.0,256.2 232.2,256.3 232.4,256.4 232.5,256.5 232.7,256.6 232.9,256.8 233.1,256.9 233.3,257.1 233.5,257.3 233.7,257.5 233.9,257.7 234.0,258.0 234.2,258.2 234.4,258.5 234.6,258.8 234.8,259.1 235.0,259.4 235.1,259.7 235.3,260.1 235.5,260.4 235.7,260.8 235.9,261.2 236.0,261.6 236.2,262.0 236.4,262.4 236.6,262.9 236.8,263.3 236.9,263.8 237.1,264.3 237.3,264.8 237.5,265.3 237.7,265.9 237.8,266.4 238.0,267.0 238.2,267.5 238.4,268.1 238.5,268.7 238.7,269.4 238.9,270.0 239.1,270.6 239.3,271.3 239.4,271.9 239.6,272.6 239.8,273.3 240.0,274.0 240.1,274.8 240.3,275.5 240.5,276.2 240.6,277.0 240.8,277.8 241.0,278.5 241.2,279.3 241.3,280.1 241.5,281.0 241.7,281.8 241.9,282.6 242.0,283.5 242.2,284.4 242.4,285.2 242.6,286.1 242.7,287.0 242.9,287.9 243.1,288.9 243.2,289.8 243.4,290.7 243.6,291.7 243.8,292.6 243.9,293.6 244.1,294.6 244.3,295.6 244.5,296.6 244.6,297.6 244.8,298.6 245.0,299.7 245.1,300.7 245.3,301.7 245.5,302.8 245.7,303.9 245.8,304.9 246.0,306.0 246.2,307.1 246.3,308.2 246.5,309.3 246.7,310.4 246.9,311.5 247.0,312.7 247.2,313.8 247.4,315.0 247.6,316.1 247.7,317.3 247.9,318.4 248.1,319.6 248.2,320.8 248.4,321.9 248.6,323.1 248.8,324.3 248.9,325.5 249.1,326.7 249.3,327.9 249.5,329.1 249.6,330.4 249.8,331.6 250.0,332.8 250.2,334.0 250.3,335.3 250.5,336.5 250.7,337.8 250.9,339.0 251.0,340.2 251.2,341.5 251.4,342.8 251.6,344.0 251.8,345.3 251.9,346.5 252.1,347.8 252.3,349.1 252.5,350.3 252.6,351.6 252.8,352.9 253.0,354.1 253.2,355.4 253.4,356.7 253.5,358.0 253.7,359.2 253.9,360.5 254.1,361.8 254.3,363.1 254.5,364.3 254.6,365.6 254.8,366.9 255.0,368.2 255.2,369.4 255.4,370.7 255.6,372.0 255.7,373.2 255.9,374.5 256.1,375.8 256.3,377.0 256.5,378.3 256.7,379.5 256.9,380.8 257.0,382.1 257.2,383.3 257.4,384.5 257.6,385.8 257.8,387.0 258.0,388.3 258.2,389.5 258.4,390.7 258.6,391.9 258.8,393.2 259.0,394.4 259.2,395.6 259.3,396.8 259.5,398.0 259.7,399.2 259.9,400.4 260.1,401.5 260.3,402.7 260.5,403.9 260.7,405.0 260.9,406.2 261.1,407.3 261.3,408.5 261.5,409.6 261.7,410.8 261.9,411.9 262.1,413.0 262.3,414.1 262.5,415.2 262.7,416.3 263.0,417.4 263.2,418.4 263.4,419.5 263.6,420.6 263.8,421.6 264.0,422.6 264.2,423.7 264.4,424.7 264.6,425.7 264.8,426.7 265.1,427.7 265.3,428.7 265.5,429.7 265.7,430.6 265.9,431.6 266.1,432.5 266.3,433.4 266.6,434.4 266.8,435.3 267.0,436.2 267.2,437.1 267.4,437.9 267.7,438.8 267.9,439.7 268.1,440.5 268.3,441.3 268.6,442.2 268.8,443.0 269.0,443.8 269.2,444.5 269.5,445.3 269.7,446.1 269.9,446.8 270.2,447.5 270.4,448.3 270.6,449.0 270.9,449.7 271.1,450.4 271.3,451.0 271.6,451.7 271.8,452.3 272.1,452.9 272.3,453.6 272.5,454.2 272.8,454.8 273.0,455.3 273.3,455.9 273.5,456.4 273.8,457.0 274.0,457.5 274.3,458.0 274.5,458.5 274.8,459.0 275.0,459.4 275.3,459.9 275.5,460.3 275.8,460.7 276.0,461.1 276.3,461.5 276.5,461.9 276.8,462.2 277.1,462.6 277.3,462.9 277.6,463.2 277.9,463.5 278.1,463.8 278.4,464.1 278.7,464.3 278.9,464.6 279.2,464.8 279.5,465.0 279.7,465.2 280.0,465.4 280.3,465.5 280.6,465.7 280.8,465.8 281.1,465.9 281.4,466.0 281.7,466.1 282.0,466.2 282.2,466.2 282.5,466.3 282.8,466.3 283.1,466.3 287.1,466.3" stroke="#939393"/>
<path d="M257.9,256.0 260.9,256.0 261.2,256.0 261.4,256.0 261.6,256.1 261.9,256.1 262.1,256.2 262.3,256.3 262.6,256.4 262.8,256.5 263.0,256.6 263.2,256.8 263.5,256.9 263.7,257.1 263.9,257.3 264.1,257.5 264.3,257.7 264.6,258.0 264.8,258.2 265.0,258.5 265.2,258.8 265.4,259.1 265.6,259.4 265.8,259.7 266.1,260.1 266.3,260.4 266.5,260.8 266.7,261.2 266.9,261.6 267.1,262.0 267.3,262.4 267.5,262.9 267.7,263.3 267.9,263.8 268.1,264.3 268.3,264.8 268.5,265.3 268.7,265.9 268.9,266.4 269.1,267.0 269.3,267.5 269.5,268.1 269.7,268.7 269.9,269.4 270.1,270.0 270.3,270.6 270.5,271.3 270.7,271.9 270.9,272.6 271.1,273.3 271.3,274.0 271.5,274.8 271.7,275.5 271.9,276.2 272.1,277.0 272.2,277.8 272.4,278.5 272.6,279.3 272.8,280.1 273.0,281.0 273.2,281.8 273.4,282.6 273.6,283.5 273.8,284.4 273.9,285.2 274.1,286.1 274.3,287.0 274.5,287.9 274.7,288.9 274.9,289.8 275.1,290.7 275.2,291.7 275.4,292.6 275.6,293.6 275.8,294.6 276.0,295.6 276.2,296.6 276.3,297.6 276.5,298.6 276.7,299.7 276.9,300.7 277.1,301.7 277.2,302.8 277.4,303.9 277.6,304.9 277.8,306.0 278.0,307.1 278.1,308.2 278.3,309.3 278.5,310.4 278.7,311.5 278.9,312.7 279.1,313.8 279.2,315.0 279.4,316.1 279.6,317.3 279.8,318.4 280.0,319.6 280.1,320.8 280.3,321.9 280.5,323.1 280.7,324.3 280.9,325.5 281.0,326.7 281.2,327.9 281.4,329.1 281.6,330.4 281.8,331.6 281.9,332.8 282.1,334.0 282.3,335.3 282.5,336.5 282.7,337.8 282.8,339.0 283.0,340.2 283.2,341.5 283.4,342.8 283.6,344.0 283.8,345.3 283.9,346.5 284.1,347.8 284.3,349.1 284.5,350.3 284.7,351.6 284.9,352.9 285.0,354.1 285.2,355.4 285.4,356.7 285.6,358.0 285.8,359.2 286.0,360.5 286.2,361.8 286.3,363.1 286.5,364.3 286.7,365.6 286.9,366.9 287.1,368.2 287.3,369.4 287.5,370.7 287.7,372.0 287.9,373.2 288.0,374.5 288.2,375.8 288.4,377.0 288.6,378.3 288.8,379.5 289.0,380.8 289.2,382.1 289.4,383.3 289.6,384.5 289.8,385.8 290.0,387.0 290.2,388.3 290.4,389.5 290.6,390.7 290.8,391.9 291.0,393.2 291.2,394.4 291.4,395.6 291.6,396.8 291.8,398.0 292.0,399.2 292.2,400.4 292.4,401.5 292.6,402.7 292.8,403.9 293.0,405.0 293.3,406.2 293.5,407.3 293.7,408.5 293.9,409.6 294.1,410.8 294.3,411.9 294.5,413.0 294.7,414.1 295.0,415.2 295.2,416.3 295.4,417.4 295.6,418.4 295.8,419.5 296.1,420.6 296.3,421.6 296.5,422.6 296.7,423.7 297.0,424.7 297.2,425.7 297.4,426.7 297.6,427.7 297.9,428.7 298.1,429.7 298.3,430.6 298.6,431.6 298.8,432.5 299.0,433.4 299.3,434.4 299.5,435.3 299.7,436.2 300.0,437.1 300.2,437.9 300.5,438.8 300.7,439.7 300.9,440.5 301.2,441.3 301.4,442.2 301.7,443.0 301.9,443.8 302.2,444.5 302.4,445.3 302.7,446.1 303.0,446.8 303.2,447.5 303.5,448.3 303.7,449.0 304.0,449.7 304.2,450.4 304.5,451.0 304.8,451.7 305.0,452.3 305.3,452.9 305.6,453.6 305.8,454.2 306.1,454.8 306.4,455.3 306.7,455.9 306.9,456.4 307.2,457.0 307.5,457.5 307.8,458.0 308.1,458.5 308.3,459.0 308.6,459.4 308.9,459.9 309.2,460.3 309.5,460.7 309.8,461.1 310.1,461.5 310.4,461.9 310.7,462.2 311.0,462.6 311.3,462.9 311.6,463.2 311.9,463.5 312.2,463.8 312.5,464.1 312.8,464.3 313.1,464.6 313.4,464.8 313.7,465.0 314.1,465.2 314.4,465.4 314.7,465.5 315.0,465.7 315.3,465.8 315.7,465.9 316.0,466.0 316.3,466.1 316.7,466.2 317.0,466.2 317.3,466.3 317.7,466.3 318.0,466.3 322.0,466.3" stroke="#2020A0"/>
</g>
<text x="42.80" y="469.40" font-size="9.7" text-anchor="end" >0</text>
<text x="42.80" y="427.34" font-size="9.7" text-anchor="end" >20</text>
<text x="42.80" y="385.28" font-size="9.7" text-anchor="end" >40</text>
<text x="42.80" y="343.22" font-size="9.7" text-anchor="end" >60</text>
<text x="42.80" y="301.16" font-size="9.7" text-anchor="end" >80</text>
<text x="42.80" y="259.10" font-size="9.7" text-anchor="end" >100</text>
<text x="48.20" y="478.40" font-size="9.7" text-anchor="middle" >190</text>
<text x="131.61" y="478.40" font-size="9.7" text-anchor="middle" >195</text>
<text x="215.02" y="478.40" font-size="9.7" text-anchor="middle" >200</text>
<text x="298.44" y="478.40" font-size="9.7" text-anchor="middle" >205</text>
<text x="158.80" y="494.70" font-size="10.2" text-anchor="start" >Temperature (°C)</text>
<text transform="translate(18.80,421.80) rotate(-90)" font-size="10.15">Relative crystallinity (%)</text>
<text x="302.50" y="269.00" font-size="9.7" text-anchor="start" >PGA</text>
<line x1="57.60" y1="389.40" x2="80.60" y2="389.40" stroke="#FF5A3C" stroke-width="1.7" stroke-linecap="butt"/>
<text x="84.50" y="392.90" font-size="10" text-anchor="start" >10°C/min</text>
<line x1="57.60" y1="402.80" x2="80.60" y2="402.80" stroke="#17908F" stroke-width="1.7" stroke-linecap="butt"/>
<text x="83.10" y="406.30" font-size="10" text-anchor="start" >7°C/min</text>
<line x1="57.60" y1="415.10" x2="80.60" y2="415.10" stroke="#A21FA0" stroke-width="1.7" stroke-linecap="butt"/>
<text x="83.10" y="418.60" font-size="10" text-anchor="start" >5°C/min</text>
<line x1="57.60" y1="427.30" x2="80.60" y2="427.30" stroke="#AA2A2E" stroke-width="1.7" stroke-linecap="butt"/>
<text x="83.10" y="430.80" font-size="10" text-anchor="start" >3°C/min</text>
<line x1="57.60" y1="439.40" x2="80.60" y2="439.40" stroke="#939393" stroke-width="1.7" stroke-linecap="butt"/>
<text x="83.10" y="442.90" font-size="10" text-anchor="start" >1°C/min</text>
<line x1="57.60" y1="452.30" x2="80.60" y2="452.30" stroke="#2020A0" stroke-width="1.7" stroke-linecap="butt"/>
<text x="83.10" y="455.80" font-size="10" text-anchor="start" >0.5°C/min</text>
<rect x="375.50" y="255.50" width="281.00" height="209.00" fill="none" stroke="#555555" stroke-width="1.0"/>
<line x1="375.50" y1="464.50" x2="379.50" y2="464.50" stroke="#555555" stroke-width="1"/>
<line x1="375.50" y1="443.50" x2="377.50" y2="443.50" stroke="#555555" stroke-width="1"/>
<line x1="375.50" y1="422.50" x2="379.50" y2="422.50" stroke="#555555" stroke-width="1"/>
<line x1="375.50" y1="401.50" x2="377.50" y2="401.50" stroke="#555555" stroke-width="1"/>
<line x1="375.50" y1="380.50" x2="379.50" y2="380.50" stroke="#555555" stroke-width="1"/>
<line x1="375.50" y1="360.50" x2="377.50" y2="360.50" stroke="#555555" stroke-width="1"/>
<line x1="375.50" y1="339.50" x2="379.50" y2="339.50" stroke="#555555" stroke-width="1"/>
<line x1="375.50" y1="318.50" x2="377.50" y2="318.50" stroke="#555555" stroke-width="1"/>
<line x1="375.50" y1="297.50" x2="379.50" y2="297.50" stroke="#555555" stroke-width="1"/>
<line x1="375.50" y1="276.50" x2="377.50" y2="276.50" stroke="#555555" stroke-width="1"/>
<line x1="375.50" y1="255.50" x2="379.50" y2="255.50" stroke="#555555" stroke-width="1"/>
<line x1="422.50" y1="464.50" x2="422.50" y2="462.50" stroke="#555555" stroke-width="1"/>
<line x1="469.50" y1="464.50" x2="469.50" y2="460.50" stroke="#555555" stroke-width="1"/>
<line x1="515.50" y1="464.50" x2="515.50" y2="462.50" stroke="#555555" stroke-width="1"/>
<line x1="562.50" y1="464.50" x2="562.50" y2="460.50" stroke="#555555" stroke-width="1"/>
<line x1="609.50" y1="464.50" x2="609.50" y2="462.50" stroke="#555555" stroke-width="1"/>
<clipPath id="c4"><rect x="375.60" y="254.60" width="280.70" height="209.60"/></clipPath>
<g clip-path="url(#c4)" fill="none" stroke-width="1.35" stroke-linejoin="round" stroke-linecap="round">
<path d="M395.5,255.8 398.5,255.8 398.7,255.8 398.9,255.8 399.2,255.9 399.4,255.9 399.7,256.0 399.9,256.1 400.2,256.2 400.4,256.3 400.7,256.4 401.0,256.6 401.3,256.7 401.6,256.9 401.9,257.1 402.2,257.3 402.5,257.5 402.8,257.8 403.1,258.0 403.4,258.3 403.8,258.6 404.1,258.9 404.4,259.2 404.8,259.5 405.1,259.8 405.5,260.2 405.8,260.6 406.2,260.9 406.5,261.3 406.9,261.8 407.3,262.2 407.7,262.6 408.1,263.1 408.4,263.6 408.8,264.0 409.2,264.5 409.6,265.0 410.0,265.6 410.4,266.1 410.8,266.7 411.3,267.2 411.7,267.8 412.1,268.4 412.5,269.0 413.0,269.7 413.4,270.3 413.8,270.9 414.3,271.6 414.7,272.3 415.1,273.0 415.6,273.7 416.0,274.4 416.5,275.1 416.9,275.8 417.4,276.6 417.9,277.4 418.3,278.1 418.8,278.9 419.3,279.7 419.7,280.5 420.2,281.4 420.7,282.2 421.1,283.0 421.6,283.9 422.1,284.8 422.6,285.7 423.1,286.5 423.6,287.4 424.0,288.4 424.5,289.3 425.0,290.2 425.5,291.2 426.0,292.1 426.5,293.1 427.0,294.0 427.5,295.0 428.0,296.0 428.5,297.0 429.0,298.0 429.5,299.1 430.0,300.1 430.5,301.1 431.0,302.2 431.5,303.2 432.0,304.3 432.5,305.4 433.0,306.4 433.5,307.5 434.0,308.6 434.5,309.7 435.0,310.8 435.5,312.0 436.0,313.1 436.5,314.2 437.0,315.4 437.5,316.5 438.0,317.7 438.5,318.8 439.0,320.0 439.5,321.1 440.0,322.3 440.5,323.5 441.0,324.7 441.5,325.9 442.0,327.1 442.5,328.3 443.0,329.5 443.5,330.7 444.0,331.9 444.5,333.1 444.9,334.4 445.4,335.6 445.9,336.8 446.4,338.0 446.9,339.3 447.4,340.5 447.8,341.8 448.3,343.0 448.8,344.3 449.3,345.5 449.7,346.8 450.2,348.0 450.7,349.3 451.1,350.5 451.6,351.8 452.0,353.1 452.5,354.3 452.9,355.6 453.4,356.8 453.8,358.1 454.3,359.4 454.7,360.6 455.1,361.9 455.6,363.2 456.0,364.4 456.4,365.7 456.9,366.9 457.3,368.2 457.7,369.5 458.1,370.7 458.5,372.0 458.9,373.2 459.3,374.5 459.8,375.7 460.2,377.0 460.6,378.2 461.0,379.5 461.4,380.7 461.8,382.0 462.2,383.2 462.6,384.4 463.0,385.6 463.4,386.9 463.8,388.1 464.2,389.3 464.6,390.5 465.0,391.7 465.4,392.9 465.8,394.1 466.3,395.3 466.7,396.5 467.1,397.7 467.5,398.9 467.9,400.0 468.4,401.2 468.8,402.3 469.2,403.5 469.7,404.6 470.1,405.8 470.6,406.9 471.0,408.0 471.5,409.2 472.0,410.3 472.4,411.4 472.9,412.5 473.4,413.6 473.9,414.6 474.4,415.7 474.9,416.8 475.4,417.8 475.9,418.9 476.4,419.9 477.0,420.9 477.5,422.0 478.0,423.0 478.6,424.0 479.2,425.0 479.7,426.0 480.3,426.9 480.9,427.9 481.5,428.8 482.1,429.8 482.7,430.7 483.3,431.6 483.9,432.6 484.6,433.5 485.2,434.3 485.8,435.2 486.5,436.1 487.1,437.0 487.8,437.8 488.4,438.6 489.1,439.5 489.8,440.3 490.4,441.1 491.1,441.9 491.8,442.6 492.5,443.4 493.2,444.2 493.8,444.9 494.5,445.6 495.2,446.3 495.9,447.0 496.6,447.7 497.4,448.4 498.1,449.1 498.8,449.7 499.5,450.3 500.2,451.0 500.9,451.6 501.6,452.2 502.4,452.8 503.1,453.3 503.8,453.9 504.5,454.4 505.2,455.0 506.0,455.5 506.7,456.0 507.4,456.4 508.1,456.9 508.9,457.4 509.6,457.8 510.3,458.2 511.0,458.7 511.8,459.1 512.5,459.4 513.2,459.8 513.9,460.2 514.6,460.5 515.4,460.8 516.1,461.1 516.8,461.4 517.5,461.7 518.2,462.0 518.9,462.2 519.6,462.5 520.3,462.7 521.0,462.9 521.7,463.1 522.3,463.3 523.0,463.4 523.7,463.6 524.4,463.7 525.0,463.8 525.7,463.9 526.4,464.0 527.0,464.1 527.7,464.1 528.3,464.2 528.9,464.2 529.6,464.2 533.6,464.2" stroke="#FF5A3C"/>
<path d="M420.9,255.8 423.9,255.8 424.2,255.8 424.5,255.8 424.8,255.9 425.1,255.9 425.4,256.0 425.7,256.1 426.0,256.2 426.3,256.3 426.6,256.4 426.9,256.6 427.2,256.7 427.6,256.9 427.9,257.1 428.2,257.3 428.5,257.5 428.9,257.8 429.2,258.0 429.5,258.3 429.9,258.6 430.2,258.9 430.6,259.2 430.9,259.5 431.2,259.8 431.6,260.2 431.9,260.6 432.3,260.9 432.7,261.3 433.0,261.8 433.4,262.2 433.7,262.6 434.1,263.1 434.5,263.6 434.8,264.0 435.2,264.5 435.6,265.0 436.0,265.6 436.3,266.1 436.7,266.7 437.1,267.2 437.5,267.8 437.9,268.4 438.3,269.0 438.6,269.7 439.0,270.3 439.4,270.9 439.8,271.6 440.2,272.3 440.6,273.0 441.0,273.7 441.4,274.4 441.8,275.1 442.2,275.8 442.6,276.6 443.0,277.4 443.4,278.1 443.8,278.9 444.2,279.7 444.6,280.5 445.0,281.4 445.4,282.2 445.9,283.0 446.3,283.9 446.7,284.8 447.1,285.7 447.5,286.5 447.9,287.4 448.3,288.4 448.8,289.3 449.2,290.2 449.6,291.2 450.0,292.1 450.4,293.1 450.8,294.0 451.3,295.0 451.7,296.0 452.1,297.0 452.5,298.0 453.0,299.1 453.4,300.1 453.8,301.1 454.2,302.2 454.6,303.2 455.1,304.3 455.5,305.4 455.9,306.4 456.3,307.5 456.8,308.6 457.2,309.7 457.6,310.8 458.0,312.0 458.5,313.1 458.9,314.2 459.3,315.4 459.7,316.5 460.1,317.7 460.6,318.8 461.0,320.0 461.4,321.1 461.8,322.3 462.3,323.5 462.7,324.7 463.1,325.9 463.5,327.1 463.9,328.3 464.3,329.5 464.8,330.7 465.2,331.9 465.6,333.1 466.0,334.4 466.4,335.6 466.8,336.8 467.2,338.0 467.7,339.3 468.1,340.5 468.5,341.8 468.9,343.0 469.3,344.3 469.7,345.5 470.1,346.8 470.5,348.0 470.9,349.3 471.3,350.5 471.7,351.8 472.1,353.1 472.5,354.3 472.9,355.6 473.3,356.8 473.7,358.1 474.1,359.4 474.5,360.6 474.9,361.9 475.2,363.2 475.6,364.4 476.0,365.7 476.4,366.9 476.8,368.2 477.1,369.5 477.5,370.7 477.9,372.0 478.3,373.2 478.6,374.5 479.0,375.7 479.4,377.0 479.8,378.2 480.1,379.5 480.5,380.7 480.9,382.0 481.3,383.2 481.7,384.4 482.0,385.6 482.4,386.9 482.8,388.1 483.2,389.3 483.6,390.5 484.0,391.7 484.3,392.9 484.7,394.1 485.1,395.3 485.5,396.5 485.9,397.7 486.3,398.9 486.8,400.0 487.2,401.2 487.6,402.3 488.0,403.5 488.4,404.6 488.8,405.8 489.3,406.9 489.7,408.0 490.1,409.2 490.6,410.3 491.0,411.4 491.5,412.5 492.0,413.6 492.4,414.6 492.9,415.7 493.4,416.8 493.8,417.8 494.3,418.9 494.8,419.9 495.3,420.9 495.8,422.0 496.3,423.0 496.8,424.0 497.3,425.0 497.9,426.0 498.4,426.9 498.9,427.9 499.5,428.8 500.0,429.8 500.6,430.7 501.1,431.6 501.7,432.6 502.2,433.5 502.8,434.3 503.4,435.2 504.0,436.1 504.5,437.0 505.1,437.8 505.7,438.6 506.3,439.5 506.9,440.3 507.5,441.1 508.1,441.9 508.7,442.6 509.3,443.4 510.0,444.2 510.6,444.9 511.2,445.6 511.8,446.3 512.4,447.0 513.1,447.7 513.7,448.4 514.3,449.1 515.0,449.7 515.6,450.3 516.2,451.0 516.9,451.6 517.5,452.2 518.2,452.8 518.8,453.3 519.5,453.9 520.1,454.4 520.8,455.0 521.4,455.5 522.1,456.0 522.7,456.4 523.4,456.9 524.0,457.4 524.7,457.8 525.3,458.2 526.0,458.7 526.6,459.1 527.3,459.4 527.9,459.8 528.6,460.2 529.2,460.5 529.9,460.8 530.5,461.1 531.2,461.4 531.8,461.7 532.5,462.0 533.1,462.2 533.7,462.5 534.4,462.7 535.0,462.9 535.7,463.1 536.3,463.3 536.9,463.4 537.5,463.6 538.2,463.7 538.8,463.8 539.4,463.9 540.0,464.0 540.7,464.1 541.3,464.1 541.9,464.2 542.5,464.2 543.1,464.2 547.1,464.2" stroke="#17908F"/>
<path d="M455.9,255.8 458.9,255.8 459.3,255.8 459.6,255.8 459.9,255.9 460.2,255.9 460.5,256.0 460.9,256.1 461.2,256.2 461.5,256.3 461.8,256.4 462.1,256.6 462.4,256.7 462.7,256.9 463.1,257.1 463.4,257.3 463.7,257.5 464.0,257.8 464.3,258.0 464.6,258.3 464.9,258.6 465.2,258.9 465.5,259.2 465.8,259.5 466.2,259.8 466.5,260.2 466.8,260.6 467.1,260.9 467.4,261.3 467.7,261.8 468.0,262.2 468.3,262.6 468.6,263.1 468.9,263.6 469.2,264.0 469.5,264.5 469.8,265.0 470.1,265.6 470.4,266.1 470.7,266.7 471.0,267.2 471.3,267.8 471.6,268.4 471.9,269.0 472.2,269.7 472.5,270.3 472.8,270.9 473.1,271.6 473.4,272.3 473.7,273.0 474.0,273.7 474.3,274.4 474.6,275.1 474.9,275.8 475.2,276.6 475.5,277.4 475.8,278.1 476.1,278.9 476.4,279.7 476.7,280.5 477.0,281.4 477.3,282.2 477.6,283.0 477.9,283.9 478.2,284.8 478.5,285.7 478.8,286.5 479.1,287.4 479.4,288.4 479.7,289.3 480.0,290.2 480.3,291.2 480.6,292.1 480.9,293.1 481.2,294.0 481.5,295.0 481.8,296.0 482.1,297.0 482.4,298.0 482.7,299.1 483.0,300.1 483.3,301.1 483.6,302.2 483.9,303.2 484.2,304.3 484.5,305.4 484.8,306.4 485.1,307.5 485.4,308.6 485.7,309.7 486.0,310.8 486.3,312.0 486.6,313.1 486.9,314.2 487.2,315.4 487.5,316.5 487.8,317.7 488.1,318.8 488.4,320.0 488.7,321.1 489.0,322.3 489.3,323.5 489.6,324.7 489.9,325.9 490.2,327.1 490.5,328.3 490.8,329.5 491.1,330.7 491.4,331.9 491.7,333.1 492.0,334.4 492.4,335.6 492.7,336.8 493.0,338.0 493.3,339.3 493.6,340.5 493.9,341.8 494.2,343.0 494.5,344.3 494.8,345.5 495.1,346.8 495.5,348.0 495.8,349.3 496.1,350.5 496.4,351.8 496.7,353.1 497.0,354.3 497.3,355.6 497.7,356.8 498.0,358.1 498.3,359.4 498.6,360.6 498.9,361.9 499.3,363.2 499.6,364.4 499.9,365.7 500.2,366.9 500.5,368.2 500.9,369.5 501.2,370.7 501.5,372.0 501.8,373.2 502.2,374.5 502.5,375.7 502.8,377.0 503.2,378.2 503.5,379.5 503.8,380.7 504.2,382.0 504.5,383.2 504.9,384.4 505.2,385.6 505.6,386.9 505.9,388.1 506.3,389.3 506.6,390.5 507.0,391.7 507.4,392.9 507.7,394.1 508.1,395.3 508.5,396.5 508.9,397.7 509.2,398.9 509.6,400.0 510.0,401.2 510.4,402.3 510.8,403.5 511.2,404.6 511.6,405.8 512.0,406.9 512.4,408.0 512.8,409.2 513.3,410.3 513.7,411.4 514.1,412.5 514.6,413.6 515.0,414.6 515.4,415.7 515.9,416.8 516.3,417.8 516.8,418.9 517.3,419.9 517.7,420.9 518.2,422.0 518.7,423.0 519.2,424.0 519.7,425.0 520.2,426.0 520.7,426.9 521.2,427.9 521.7,428.8 522.2,429.8 522.7,430.7 523.2,431.6 523.8,432.6 524.3,433.5 524.8,434.3 525.4,435.2 525.9,436.1 526.5,437.0 527.0,437.8 527.6,438.6 528.2,439.5 528.7,440.3 529.3,441.1 529.9,441.9 530.4,442.6 531.0,443.4 531.6,444.2 532.2,444.9 532.8,445.6 533.4,446.3 534.0,447.0 534.6,447.7 535.2,448.4 535.8,449.1 536.5,449.7 537.1,450.3 537.7,451.0 538.3,451.6 539.0,452.2 539.6,452.8 540.2,453.3 540.9,453.9 541.5,454.4 542.2,455.0 542.8,455.5 543.5,456.0 544.1,456.4 544.8,456.9 545.4,457.4 546.1,457.8 546.7,458.2 547.4,458.7 548.1,459.1 548.7,459.4 549.4,459.8 550.1,460.2 550.8,460.5 551.5,460.8 552.1,461.1 552.8,461.4 553.5,461.7 554.2,462.0 554.9,462.2 555.6,462.5 556.3,462.7 557.0,462.9 557.7,463.1 558.3,463.3 559.0,463.4 559.7,463.6 560.4,463.7 561.2,463.8 561.9,463.9 562.6,464.0 563.3,464.1 564.0,464.1 564.7,464.2 565.4,464.2 566.1,464.2 570.1,464.2" stroke="#A21FA0"/>
<path d="M515.9,255.8 518.9,255.8 519.2,255.8 519.4,255.8 519.7,255.9 520.0,255.9 520.3,256.0 520.5,256.1 520.8,256.2 521.1,256.3 521.4,256.4 521.6,256.6 521.9,256.7 522.2,256.9 522.4,257.1 522.7,257.3 523.0,257.5 523.2,257.8 523.5,258.0 523.8,258.3 524.0,258.6 524.3,258.9 524.6,259.2 524.8,259.5 525.1,259.8 525.3,260.2 525.6,260.6 525.9,260.9 526.1,261.3 526.4,261.8 526.6,262.2 526.9,262.6 527.2,263.1 527.4,263.6 527.7,264.0 527.9,264.5 528.2,265.0 528.4,265.6 528.7,266.1 528.9,266.7 529.2,267.2 529.5,267.8 529.7,268.4 530.0,269.0 530.2,269.7 530.5,270.3 530.7,270.9 531.0,271.6 531.2,272.3 531.5,273.0 531.7,273.7 532.0,274.4 532.2,275.1 532.5,275.8 532.7,276.6 533.0,277.4 533.2,278.1 533.5,278.9 533.7,279.7 534.0,280.5 534.2,281.4 534.5,282.2 534.7,283.0 535.0,283.9 535.2,284.8 535.5,285.7 535.7,286.5 536.0,287.4 536.2,288.4 536.5,289.3 536.7,290.2 537.0,291.2 537.2,292.1 537.5,293.1 537.7,294.0 538.0,295.0 538.2,296.0 538.5,297.0 538.7,298.0 539.0,299.1 539.2,300.1 539.5,301.1 539.7,302.2 540.0,303.2 540.2,304.3 540.5,305.4 540.7,306.4 541.0,307.5 541.3,308.6 541.5,309.7 541.8,310.8 542.0,312.0 542.3,313.1 542.5,314.2 542.8,315.4 543.0,316.5 543.3,317.7 543.5,318.8 543.8,320.0 544.1,321.1 544.3,322.3 544.6,323.5 544.8,324.7 545.1,325.9 545.4,327.1 545.6,328.3 545.9,329.5 546.1,330.7 546.4,331.9 546.7,333.1 546.9,334.4 547.2,335.6 547.4,336.8 547.7,338.0 548.0,339.3 548.2,340.5 548.5,341.8 548.8,343.0 549.0,344.3 549.3,345.5 549.6,346.8 549.9,348.0 550.1,349.3 550.4,350.5 550.7,351.8 550.9,353.1 551.2,354.3 551.5,355.6 551.8,356.8 552.0,358.1 552.3,359.4 552.6,360.6 552.9,361.9 553.2,363.2 553.4,364.4 553.7,365.7 554.0,366.9 554.3,368.2 554.6,369.5 554.9,370.7 555.1,372.0 555.4,373.2 555.7,374.5 556.0,375.7 556.3,377.0 556.6,378.2 556.9,379.5 557.2,380.7 557.5,382.0 557.8,383.2 558.1,384.4 558.4,385.6 558.7,386.9 559.0,388.1 559.3,389.3 559.6,390.5 559.9,391.7 560.2,392.9 560.5,394.1 560.8,395.3 561.1,396.5 561.4,397.7 561.7,398.9 562.0,400.0 562.3,401.2 562.7,402.3 563.0,403.5 563.3,404.6 563.6,405.8 563.9,406.9 564.2,408.0 564.6,409.2 564.9,410.3 565.2,411.4 565.5,412.5 565.9,413.6 566.2,414.6 566.5,415.7 566.9,416.8 567.2,417.8 567.5,418.9 567.9,419.9 568.2,420.9 568.6,422.0 568.9,423.0 569.3,424.0 569.6,425.0 569.9,426.0 570.3,426.9 570.6,427.9 571.0,428.8 571.3,429.8 571.7,430.7 572.1,431.6 572.4,432.6 572.8,433.5 573.1,434.3 573.5,435.2 573.9,436.1 574.2,437.0 574.6,437.8 575.0,438.6 575.4,439.5 575.7,440.3 576.1,441.1 576.5,441.9 576.9,442.6 577.2,443.4 577.6,444.2 578.0,444.9 578.4,445.6 578.8,446.3 579.2,447.0 579.6,447.7 580.0,448.4 580.4,449.1 580.8,449.7 581.2,450.3 581.6,451.0 582.0,451.6 582.4,452.2 582.8,452.8 583.2,453.3 583.6,453.9 584.0,454.4 584.5,455.0 584.9,455.5 585.3,456.0 585.7,456.4 586.2,456.9 586.6,457.4 587.0,457.8 587.4,458.2 587.9,458.7 588.3,459.1 588.8,459.4 589.2,459.8 589.6,460.2 590.1,460.5 590.5,460.8 591.0,461.1 591.5,461.4 591.9,461.7 592.4,462.0 592.8,462.2 593.3,462.5 593.8,462.7 594.2,462.9 594.7,463.1 595.2,463.3 595.6,463.4 596.1,463.6 596.6,463.7 597.1,463.8 597.6,463.9 598.1,464.0 598.5,464.1 599.0,464.1 599.5,464.2 600.0,464.2 600.5,464.2 604.5,464.2" stroke="#AA2A2E"/>
<path d="M588.2,255.8 591.2,255.8 591.4,255.8 591.5,255.8 591.6,255.9 591.8,255.9 591.9,256.0 592.1,256.1 592.2,256.2 592.4,256.3 592.5,256.4 592.6,256.6 592.8,256.7 592.9,256.9 593.0,257.1 593.2,257.3 593.3,257.5 593.5,257.8 593.6,258.0 593.7,258.3 593.9,258.6 594.0,258.9 594.1,259.2 594.3,259.5 594.4,259.8 594.5,260.2 594.7,260.6 594.8,260.9 594.9,261.3 595.1,261.8 595.2,262.2 595.3,262.6 595.4,263.1 595.6,263.6 595.7,264.0 595.8,264.5 596.0,265.0 596.1,265.6 596.2,266.1 596.3,266.7 596.5,267.2 596.6,267.8 596.7,268.4 596.8,269.0 597.0,269.7 597.1,270.3 597.2,270.9 597.3,271.6 597.5,272.3 597.6,273.0 597.7,273.7 597.8,274.4 598.0,275.1 598.1,275.8 598.2,276.6 598.3,277.4 598.5,278.1 598.6,278.9 598.7,279.7 598.8,280.5 599.0,281.4 599.1,282.2 599.2,283.0 599.3,283.9 599.4,284.8 599.6,285.7 599.7,286.5 599.8,287.4 599.9,288.4 600.1,289.3 600.2,290.2 600.3,291.2 600.4,292.1 600.5,293.1 600.7,294.0 600.8,295.0 600.9,296.0 601.0,297.0 601.1,298.0 601.3,299.1 601.4,300.1 601.5,301.1 601.6,302.2 601.8,303.2 601.9,304.3 602.0,305.4 602.1,306.4 602.2,307.5 602.4,308.6 602.5,309.7 602.6,310.8 602.7,312.0 602.8,313.1 603.0,314.2 603.1,315.4 603.2,316.5 603.3,317.7 603.5,318.8 603.6,320.0 603.7,321.1 603.8,322.3 603.9,323.5 604.1,324.7 604.2,325.9 604.3,327.1 604.4,328.3 604.6,329.5 604.7,330.7 604.8,331.9 604.9,333.1 605.1,334.4 605.2,335.6 605.3,336.8 605.4,338.0 605.6,339.3 605.7,340.5 605.8,341.8 605.9,343.0 606.1,344.3 606.2,345.5 606.3,346.8 606.5,348.0 606.6,349.3 606.7,350.5 606.8,351.8 607.0,353.1 607.1,354.3 607.2,355.6 607.4,356.8 607.5,358.1 607.6,359.4 607.8,360.6 607.9,361.9 608.0,363.2 608.2,364.4 608.3,365.7 608.4,366.9 608.6,368.2 608.7,369.5 608.8,370.7 609.0,372.0 609.1,373.2 609.2,374.5 609.4,375.7 609.5,377.0 609.7,378.2 609.8,379.5 609.9,380.7 610.1,382.0 610.2,383.2 610.4,384.4 610.5,385.6 610.6,386.9 610.8,388.1 610.9,389.3 611.1,390.5 611.2,391.7 611.4,392.9 611.5,394.1 611.7,395.3 611.8,396.5 612.0,397.7 612.1,398.9 612.3,400.0 612.4,401.2 612.6,402.3 612.7,403.5 612.9,404.6 613.0,405.8 613.2,406.9 613.3,408.0 613.5,409.2 613.6,410.3 613.8,411.4 613.9,412.5 614.1,413.6 614.3,414.6 614.4,415.7 614.6,416.8 614.7,417.8 614.9,418.9 615.1,419.9 615.2,420.9 615.4,422.0 615.6,423.0 615.7,424.0 615.9,425.0 616.1,426.0 616.2,426.9 616.4,427.9 616.6,428.8 616.7,429.8 616.9,430.7 617.1,431.6 617.3,432.6 617.4,433.5 617.6,434.3 617.8,435.2 618.0,436.1 618.1,437.0 618.3,437.8 618.5,438.6 618.7,439.5 618.9,440.3 619.0,441.1 619.2,441.9 619.4,442.6 619.6,443.4 619.8,444.2 620.0,444.9 620.2,445.6 620.3,446.3 620.5,447.0 620.7,447.7 620.9,448.4 621.1,449.1 621.3,449.7 621.5,450.3 621.7,451.0 621.9,451.6 622.1,452.2 622.3,452.8 622.5,453.3 622.7,453.9 622.9,454.4 623.1,455.0 623.3,455.5 623.5,456.0 623.7,456.4 624.0,456.9 624.2,457.4 624.4,457.8 624.6,458.2 624.8,458.7 625.0,459.1 625.2,459.4 625.5,459.8 625.7,460.2 625.9,460.5 626.1,460.8 626.4,461.1 626.6,461.4 626.8,461.7 627.0,462.0 627.3,462.2 627.5,462.5 627.7,462.7 628.0,462.9 628.2,463.1 628.4,463.3 628.7,463.4 628.9,463.6 629.1,463.7 629.4,463.8 629.6,463.9 629.9,464.0 630.1,464.1 630.4,464.1 630.6,464.2 630.9,464.2 631.1,464.2 635.1,464.2" stroke="#939393"/>
<path d="M612.5,255.8 615.5,255.8 615.6,255.8 615.8,255.8 616.0,255.9 616.1,255.9 616.3,256.0 616.4,256.1 616.6,256.2 616.7,256.3 616.9,256.4 617.0,256.6 617.2,256.7 617.3,256.9 617.5,257.1 617.6,257.3 617.8,257.5 617.9,257.8 618.1,258.0 618.2,258.3 618.3,258.6 618.5,258.9 618.6,259.2 618.8,259.5 618.9,259.8 619.0,260.2 619.2,260.6 619.3,260.9 619.4,261.3 619.6,261.8 619.7,262.2 619.8,262.6 620.0,263.1 620.1,263.6 620.2,264.0 620.3,264.5 620.5,265.0 620.6,265.6 620.7,266.1 620.8,266.7 621.0,267.2 621.1,267.8 621.2,268.4 621.3,269.0 621.5,269.7 621.6,270.3 621.7,270.9 621.8,271.6 621.9,272.3 622.0,273.0 622.2,273.7 622.3,274.4 622.4,275.1 622.5,275.8 622.6,276.6 622.7,277.4 622.8,278.1 623.0,278.9 623.1,279.7 623.2,280.5 623.3,281.4 623.4,282.2 623.5,283.0 623.6,283.9 623.7,284.8 623.8,285.7 623.9,286.5 624.0,287.4 624.1,288.4 624.3,289.3 624.4,290.2 624.5,291.2 624.6,292.1 624.7,293.1 624.8,294.0 624.9,295.0 625.0,296.0 625.1,297.0 625.2,298.0 625.3,299.1 625.4,300.1 625.5,301.1 625.6,302.2 625.7,303.2 625.8,304.3 625.9,305.4 626.0,306.4 626.1,307.5 626.2,308.6 626.3,309.7 626.4,310.8 626.5,312.0 626.6,313.1 626.7,314.2 626.8,315.4 626.9,316.5 627.0,317.7 627.1,318.8 627.2,320.0 627.3,321.1 627.4,322.3 627.5,323.5 627.6,324.7 627.7,325.9 627.8,327.1 627.9,328.3 628.0,329.5 628.1,330.7 628.2,331.9 628.3,333.1 628.4,334.4 628.5,335.6 628.6,336.8 628.7,338.0 628.8,339.3 628.9,340.5 629.0,341.8 629.1,343.0 629.2,344.3 629.3,345.5 629.4,346.8 629.5,348.0 629.6,349.3 629.7,350.5 629.8,351.8 629.9,353.1 630.0,354.3 630.1,355.6 630.2,356.8 630.3,358.1 630.4,359.4 630.5,360.6 630.6,361.9 630.7,363.2 630.9,364.4 631.0,365.7 631.1,366.9 631.2,368.2 631.3,369.5 631.4,370.7 631.5,372.0 631.6,373.2 631.7,374.5 631.8,375.7 631.9,377.0 632.1,378.2 632.2,379.5 632.3,380.7 632.4,382.0 632.5,383.2 632.6,384.4 632.7,385.6 632.9,386.9 633.0,388.1 633.1,389.3 633.2,390.5 633.3,391.7 633.4,392.9 633.6,394.1 633.7,395.3 633.8,396.5 633.9,397.7 634.1,398.9 634.2,400.0 634.3,401.2 634.4,402.3 634.6,403.5 634.7,404.6 634.8,405.8 634.9,406.9 635.1,408.0 635.2,409.2 635.3,410.3 635.5,411.4 635.6,412.5 635.7,413.6 635.9,414.6 636.0,415.7 636.2,416.8 636.3,417.8 636.4,418.9 636.6,419.9 636.7,420.9 636.9,422.0 637.0,423.0 637.1,424.0 637.3,425.0 637.4,426.0 637.6,426.9 637.7,427.9 637.9,428.8 638.0,429.8 638.2,430.7 638.3,431.6 638.5,432.6 638.7,433.5 638.8,434.3 639.0,435.2 639.1,436.1 639.3,437.0 639.5,437.8 639.6,438.6 639.8,439.5 640.0,440.3 640.1,441.1 640.3,441.9 640.5,442.6 640.6,443.4 640.8,444.2 641.0,444.9 641.2,445.6 641.3,446.3 641.5,447.0 641.7,447.7 641.9,448.4 642.1,449.1 642.2,449.7 642.4,450.3 642.6,451.0 642.8,451.6 643.0,452.2 643.2,452.8 643.4,453.3 643.6,453.9 643.8,454.4 644.0,455.0 644.2,455.5 644.4,456.0 644.6,456.4 644.8,456.9 645.0,457.4 645.2,457.8 645.4,458.2 645.6,458.7 645.8,459.1 646.1,459.4 646.3,459.8 646.5,460.2 646.7,460.5 646.9,460.8 647.2,461.1 647.4,461.4 647.6,461.7 647.9,462.0 648.1,462.2 648.3,462.5 648.6,462.7 648.8,462.9 649.0,463.1 649.3,463.3 649.5,463.4 649.8,463.6 650.0,463.7 650.3,463.8 650.5,463.9 650.8,464.0 651.0,464.1 651.3,464.1 651.5,464.2 651.8,464.2 652.1,464.2 656.1,464.2" stroke="#2020A0"/>
</g>
<text x="370.50" y="467.30" font-size="9.7" text-anchor="end" >0</text>
<text x="370.50" y="425.62" font-size="9.7" text-anchor="end" >20</text>
<text x="370.50" y="383.94" font-size="9.7" text-anchor="end" >40</text>
<text x="370.50" y="342.26" font-size="9.7" text-anchor="end" >60</text>
<text x="370.50" y="300.58" font-size="9.7" text-anchor="end" >80</text>
<text x="370.50" y="258.90" font-size="9.7" text-anchor="end" >100</text>
<text x="375.60" y="476.30" font-size="9.7" text-anchor="middle" >80</text>
<text x="469.17" y="476.30" font-size="9.7" text-anchor="middle" >100</text>
<text x="562.73" y="476.30" font-size="9.7" text-anchor="middle" >120</text>
<text x="656.30" y="476.30" font-size="9.7" text-anchor="middle" >140</text>
<text x="481.60" y="494.60" font-size="10.2" text-anchor="start" >Temperature (°C)</text>
<text transform="translate(352.40,424.20) rotate(-90)" font-size="10.15">Relative crystallinity (%)</text>
<text x="632.00" y="266.70" font-size="9.7" text-anchor="start" >PLA</text>
<line x1="383.00" y1="388.80" x2="406.10" y2="388.80" stroke="#FF5A3C" stroke-width="1.7" stroke-linecap="butt"/>
<text x="408.70" y="392.30" font-size="10" text-anchor="start" >10°C/min</text>
<line x1="383.00" y1="401.10" x2="406.10" y2="401.10" stroke="#17908F" stroke-width="1.7" stroke-linecap="butt"/>
<text x="408.70" y="404.60" font-size="10" text-anchor="start" >7°C/min</text>
<line x1="383.00" y1="413.10" x2="406.10" y2="413.10" stroke="#A21FA0" stroke-width="1.7" stroke-linecap="butt"/>
<text x="408.70" y="416.60" font-size="10" text-anchor="start" >5°C/min</text>
<line x1="383.00" y1="425.40" x2="406.10" y2="425.40" stroke="#AA2A2E" stroke-width="1.7" stroke-linecap="butt"/>
<text x="408.70" y="428.90" font-size="10" text-anchor="start" >3°C/min</text>
<line x1="383.00" y1="437.60" x2="406.10" y2="437.60" stroke="#939393" stroke-width="1.7" stroke-linecap="butt"/>
<text x="408.70" y="441.10" font-size="10" text-anchor="start" >1°C/min</text>
<line x1="383.00" y1="449.60" x2="406.10" y2="449.60" stroke="#2020A0" stroke-width="1.7" stroke-linecap="butt"/>
<text x="408.70" y="453.10" font-size="10" text-anchor="start" >0.5°C/min</text>
</svg></body></html>
